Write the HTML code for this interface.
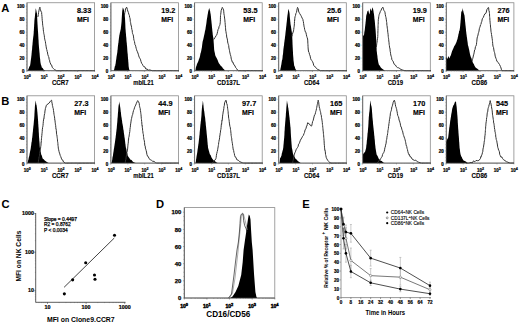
<!DOCTYPE html>
<html><head><meta charset="utf-8"><style>
html,body{margin:0;padding:0;background:#fff;width:520px;height:326px;overflow:hidden;}
svg{display:block;font-family:"Liberation Sans",sans-serif;}
</style></head><body>
<svg xmlns="http://www.w3.org/2000/svg" width="520" height="326" viewBox="0 0 520 326" font-family="Liberation Sans, sans-serif">
<rect width="520" height="326" fill="#fff"/>
<rect x="27.00" y="2.75" width="67.60" height="67.95" fill="none" stroke="#8a8a8a" stroke-width="0.8"/>
<polygon points="27.60,70.70 28.50,69.00 29.30,66.87 30.10,65.60 30.27,64.22 30.45,63.27 30.62,61.87 30.80,60.58 30.98,58.90 31.15,58.01 31.32,56.36 31.50,55.00 31.62,53.16 31.74,52.28 31.87,50.46 31.99,50.19 32.11,48.87 32.23,46.80 32.36,45.44 32.48,44.65 32.60,43.00 32.77,41.14 32.93,39.61 33.10,38.13 33.27,36.82 33.43,35.65 33.60,34.00 33.68,33.26 33.76,31.05 33.85,30.65 33.93,28.87 34.01,27.98 34.09,26.58 34.17,24.49 34.25,23.78 34.34,21.85 34.42,20.41 34.50,19.70 34.66,18.14 34.83,17.15 34.99,15.47 35.15,13.58 35.31,12.92 35.48,11.57 35.64,9.32 35.80,8.20 36.10,9.44 36.40,10.97 36.70,12.58 37.00,13.40 37.06,14.26 37.12,16.09 37.19,17.90 37.25,18.78 37.31,20.22 37.38,21.60 37.44,22.60 37.50,23.90 37.59,24.95 37.67,26.61 37.76,27.83 37.85,28.91 37.94,30.83 38.02,31.54 38.11,32.98 38.20,34.30 38.27,35.91 38.35,37.28 38.42,38.67 38.50,39.68 38.58,40.50 38.65,42.52 38.73,43.89 38.80,44.70 38.93,46.43 39.06,47.96 39.19,49.13 39.31,50.58 39.44,52.16 39.57,53.11 39.70,55.00 39.85,56.71 40.00,58.43 40.15,59.10 40.30,61.00 40.53,62.64 40.77,63.91 41.00,65.00 41.40,65.80 41.80,67.50 42.65,67.96 43.50,69.50 45.50,70.70" fill="#000"/>
<polyline points="37.80,17.00 38.08,16.09 38.35,14.41 38.62,12.28 38.90,10.90 39.40,8.62 39.90,7.20 40.20,8.49 40.50,9.56 40.80,11.00 41.60,12.40 41.73,14.35 41.85,14.92 41.98,16.67 42.10,18.30 42.23,20.32 42.35,21.03 42.48,22.07 42.60,23.90 42.77,25.66 42.95,26.71 43.12,27.35 43.30,29.84 43.48,31.27 43.65,32.26 43.83,33.72 44.00,34.30 44.23,35.26 44.45,37.31 44.67,38.92 44.90,39.83 45.12,40.75 45.35,41.38 45.58,43.28 45.80,44.70 46.08,46.19 46.35,48.02 46.62,49.40 46.90,49.81 47.17,51.80 47.45,51.99 47.73,54.26 48.00,55.00 48.38,56.42 48.77,56.79 49.15,59.40 49.53,60.15 49.92,62.25 50.30,63.00 50.97,64.80 51.63,65.10 52.30,67.50 53.40,68.49 54.50,69.50 56.50,70.70 57.83,70.70 59.16,70.70 60.48,70.70 61.81,70.70 63.14,70.70 64.47,70.70 65.79,70.70 67.12,70.70 68.45,70.70 69.78,70.70 71.10,70.70 72.43,70.70 73.76,70.70 75.09,70.70 76.41,70.70 77.74,70.70 79.07,70.70 80.40,70.70 81.72,70.70 83.05,70.70 84.38,70.70 85.71,70.70 87.03,70.70 88.36,70.70 89.69,70.70 91.02,70.70 92.34,70.70 93.67,70.70 95.00,70.70" fill="none" stroke="#333" stroke-width="1.0" stroke-linejoin="round"/>
<line x1="27.00" y1="2.75" x2="27.00" y2="70.70" stroke="#555" stroke-width="0.7"/>
<line x1="27.00" y1="70.70" x2="94.60" y2="70.70" stroke="#555" stroke-width="0.7"/>
<line x1="25.80" y1="71.10" x2="27.00" y2="71.10" stroke="#777" stroke-width="0.5"/>
<line x1="26.20" y1="67.86" x2="27.00" y2="67.86" stroke="#777" stroke-width="0.5"/>
<line x1="26.20" y1="64.62" x2="27.00" y2="64.62" stroke="#777" stroke-width="0.5"/>
<line x1="26.20" y1="61.37" x2="27.00" y2="61.37" stroke="#777" stroke-width="0.5"/>
<line x1="25.80" y1="58.13" x2="27.00" y2="58.13" stroke="#777" stroke-width="0.5"/>
<line x1="26.20" y1="54.89" x2="27.00" y2="54.89" stroke="#777" stroke-width="0.5"/>
<line x1="26.20" y1="51.65" x2="27.00" y2="51.65" stroke="#777" stroke-width="0.5"/>
<line x1="26.20" y1="48.40" x2="27.00" y2="48.40" stroke="#777" stroke-width="0.5"/>
<line x1="25.80" y1="45.16" x2="27.00" y2="45.16" stroke="#777" stroke-width="0.5"/>
<line x1="26.20" y1="41.92" x2="27.00" y2="41.92" stroke="#777" stroke-width="0.5"/>
<line x1="26.20" y1="38.68" x2="27.00" y2="38.68" stroke="#777" stroke-width="0.5"/>
<line x1="26.20" y1="35.43" x2="27.00" y2="35.43" stroke="#777" stroke-width="0.5"/>
<line x1="25.80" y1="32.19" x2="27.00" y2="32.19" stroke="#777" stroke-width="0.5"/>
<line x1="26.20" y1="28.95" x2="27.00" y2="28.95" stroke="#777" stroke-width="0.5"/>
<line x1="26.20" y1="25.71" x2="27.00" y2="25.71" stroke="#777" stroke-width="0.5"/>
<line x1="26.20" y1="22.46" x2="27.00" y2="22.46" stroke="#777" stroke-width="0.5"/>
<line x1="25.80" y1="19.22" x2="27.00" y2="19.22" stroke="#777" stroke-width="0.5"/>
<line x1="26.20" y1="15.98" x2="27.00" y2="15.98" stroke="#777" stroke-width="0.5"/>
<line x1="26.20" y1="12.73" x2="27.00" y2="12.73" stroke="#777" stroke-width="0.5"/>
<line x1="26.20" y1="9.49" x2="27.00" y2="9.49" stroke="#777" stroke-width="0.5"/>
<line x1="25.80" y1="6.25" x2="27.00" y2="6.25" stroke="#777" stroke-width="0.5"/>
<text x="24.40" y="72.70" font-size="4.5" font-weight="bold" text-anchor="end" stroke="#000" stroke-width="0.22">0</text>
<text x="24.40" y="59.73" font-size="4.5" font-weight="bold" text-anchor="end" stroke="#000" stroke-width="0.22">20</text>
<text x="24.40" y="46.76" font-size="4.5" font-weight="bold" text-anchor="end" stroke="#000" stroke-width="0.22">40</text>
<text x="24.40" y="33.79" font-size="4.5" font-weight="bold" text-anchor="end" stroke="#000" stroke-width="0.22">60</text>
<text x="24.40" y="20.82" font-size="4.5" font-weight="bold" text-anchor="end" stroke="#000" stroke-width="0.22">80</text>
<text x="24.40" y="7.85" font-size="4.5" font-weight="bold" text-anchor="end" stroke="#000" stroke-width="0.22">100</text>
<text x="27.30" y="78.70" font-size="4.5" font-weight="bold" text-anchor="middle" stroke="#000" stroke-width="0.2">10<tspan dy="-2.0" font-size="3.6">0</tspan></text>
<line x1="32.09" y1="70.70" x2="32.09" y2="71.50" stroke="#888" stroke-width="0.4"/>
<line x1="35.06" y1="70.70" x2="35.06" y2="71.50" stroke="#888" stroke-width="0.4"/>
<line x1="37.17" y1="70.70" x2="37.17" y2="71.50" stroke="#888" stroke-width="0.4"/>
<line x1="38.81" y1="70.70" x2="38.81" y2="71.50" stroke="#888" stroke-width="0.4"/>
<line x1="40.15" y1="70.70" x2="40.15" y2="71.50" stroke="#888" stroke-width="0.4"/>
<line x1="41.28" y1="70.70" x2="41.28" y2="71.50" stroke="#888" stroke-width="0.4"/>
<line x1="42.26" y1="70.70" x2="42.26" y2="71.50" stroke="#888" stroke-width="0.4"/>
<line x1="43.13" y1="70.70" x2="43.13" y2="71.50" stroke="#888" stroke-width="0.4"/>
<line x1="27.00" y1="70.70" x2="27.00" y2="72.00" stroke="#666" stroke-width="0.5"/>
<text x="44.20" y="78.70" font-size="4.5" font-weight="bold" text-anchor="middle" stroke="#000" stroke-width="0.2">10<tspan dy="-2.0" font-size="3.6">1</tspan></text>
<line x1="48.99" y1="70.70" x2="48.99" y2="71.50" stroke="#888" stroke-width="0.4"/>
<line x1="51.96" y1="70.70" x2="51.96" y2="71.50" stroke="#888" stroke-width="0.4"/>
<line x1="54.07" y1="70.70" x2="54.07" y2="71.50" stroke="#888" stroke-width="0.4"/>
<line x1="55.71" y1="70.70" x2="55.71" y2="71.50" stroke="#888" stroke-width="0.4"/>
<line x1="57.05" y1="70.70" x2="57.05" y2="71.50" stroke="#888" stroke-width="0.4"/>
<line x1="58.18" y1="70.70" x2="58.18" y2="71.50" stroke="#888" stroke-width="0.4"/>
<line x1="59.16" y1="70.70" x2="59.16" y2="71.50" stroke="#888" stroke-width="0.4"/>
<line x1="60.03" y1="70.70" x2="60.03" y2="71.50" stroke="#888" stroke-width="0.4"/>
<line x1="43.90" y1="70.70" x2="43.90" y2="72.00" stroke="#666" stroke-width="0.5"/>
<text x="61.10" y="78.70" font-size="4.5" font-weight="bold" text-anchor="middle" stroke="#000" stroke-width="0.2">10<tspan dy="-2.0" font-size="3.6">2</tspan></text>
<line x1="65.89" y1="70.70" x2="65.89" y2="71.50" stroke="#888" stroke-width="0.4"/>
<line x1="68.86" y1="70.70" x2="68.86" y2="71.50" stroke="#888" stroke-width="0.4"/>
<line x1="70.97" y1="70.70" x2="70.97" y2="71.50" stroke="#888" stroke-width="0.4"/>
<line x1="72.61" y1="70.70" x2="72.61" y2="71.50" stroke="#888" stroke-width="0.4"/>
<line x1="73.95" y1="70.70" x2="73.95" y2="71.50" stroke="#888" stroke-width="0.4"/>
<line x1="75.08" y1="70.70" x2="75.08" y2="71.50" stroke="#888" stroke-width="0.4"/>
<line x1="76.06" y1="70.70" x2="76.06" y2="71.50" stroke="#888" stroke-width="0.4"/>
<line x1="76.93" y1="70.70" x2="76.93" y2="71.50" stroke="#888" stroke-width="0.4"/>
<line x1="60.80" y1="70.70" x2="60.80" y2="72.00" stroke="#666" stroke-width="0.5"/>
<text x="78.00" y="78.70" font-size="4.5" font-weight="bold" text-anchor="middle" stroke="#000" stroke-width="0.2">10<tspan dy="-2.0" font-size="3.6">3</tspan></text>
<line x1="82.79" y1="70.70" x2="82.79" y2="71.50" stroke="#888" stroke-width="0.4"/>
<line x1="85.76" y1="70.70" x2="85.76" y2="71.50" stroke="#888" stroke-width="0.4"/>
<line x1="87.87" y1="70.70" x2="87.87" y2="71.50" stroke="#888" stroke-width="0.4"/>
<line x1="89.51" y1="70.70" x2="89.51" y2="71.50" stroke="#888" stroke-width="0.4"/>
<line x1="90.85" y1="70.70" x2="90.85" y2="71.50" stroke="#888" stroke-width="0.4"/>
<line x1="91.98" y1="70.70" x2="91.98" y2="71.50" stroke="#888" stroke-width="0.4"/>
<line x1="92.96" y1="70.70" x2="92.96" y2="71.50" stroke="#888" stroke-width="0.4"/>
<line x1="93.83" y1="70.70" x2="93.83" y2="71.50" stroke="#888" stroke-width="0.4"/>
<line x1="77.70" y1="70.70" x2="77.70" y2="72.00" stroke="#666" stroke-width="0.5"/>
<text x="94.90" y="78.70" font-size="4.5" font-weight="bold" text-anchor="middle" stroke="#000" stroke-width="0.2">10<tspan dy="-2.0" font-size="3.6">4</tspan></text>
<line x1="94.60" y1="70.70" x2="94.60" y2="72.00" stroke="#666" stroke-width="0.5"/>
<text x="60.25" y="84.50" font-size="6.3" font-weight="bold" text-anchor="middle" textLength="16.7" lengthAdjust="spacingAndGlyphs" stroke="#000" stroke-width="0.1">CCR7</text>
<text x="77.00" y="12.85" font-size="7.3" font-weight="bold" stroke="#000" stroke-width="0.15">8.33</text>
<text x="77.00" y="21.70" font-size="6.9" font-weight="bold" stroke="#000" stroke-width="0.15">MFI</text>
<rect x="110.90" y="2.75" width="67.60" height="67.95" fill="none" stroke="#8a8a8a" stroke-width="0.8"/>
<polygon points="113.80,70.70 114.15,69.50 114.50,68.00 114.83,66.30 115.17,65.89 115.50,64.00 115.70,63.18 115.90,61.29 116.10,60.00 116.32,58.80 116.54,56.86 116.76,55.47 116.98,54.15 117.20,53.00 117.35,51.90 117.50,49.99 117.65,49.57 117.80,47.15 117.95,45.97 118.10,45.00 118.27,43.16 118.44,42.64 118.61,40.81 118.79,39.59 118.96,38.08 119.13,37.11 119.30,35.60 119.60,34.14 119.90,32.57 120.20,31.50 120.50,30.01 120.80,28.90 120.94,27.09 121.08,26.61 121.22,25.10 121.36,23.74 121.50,22.20 121.59,21.32 121.67,19.39 121.76,18.03 121.84,16.74 121.93,15.37 122.01,14.35 122.10,12.80 122.28,10.86 122.45,10.06 122.62,8.79 122.80,7.40 123.35,8.56 123.90,10.10 124.12,10.88 124.35,13.05 124.58,13.56 124.80,15.50 124.88,16.92 124.96,17.76 125.04,18.96 125.12,20.48 125.20,22.20 125.26,23.02 125.32,24.46 125.38,26.44 125.44,27.83 125.50,28.90 125.62,30.09 125.73,31.78 125.85,32.92 125.97,34.30 126.08,36.10 126.20,37.00 126.32,38.11 126.43,40.11 126.55,41.23 126.67,42.55 126.78,43.07 126.90,45.00 127.02,45.86 127.14,47.17 127.25,48.91 127.37,50.99 127.49,52.27 127.61,53.59 127.73,54.09 127.85,56.16 127.96,57.60 128.08,59.01 128.20,60.00 128.30,61.85 128.40,62.57 128.50,64.11 128.60,66.00 128.90,68.10 129.20,69.50 130.00,70.70" fill="#000"/>
<polyline points="124.50,15.00 124.75,12.84 125.00,12.63 125.25,10.97 125.50,9.00 126.60,7.20 127.00,8.03 127.40,9.73 127.80,11.00 128.33,12.41 128.87,14.27 129.40,15.50 129.63,17.42 129.87,17.57 130.10,18.85 130.33,21.70 130.57,22.38 130.80,23.90 131.06,25.67 131.32,25.60 131.59,27.70 131.85,29.50 132.11,29.91 132.38,32.50 132.64,33.72 132.90,34.30 133.16,34.76 133.43,36.05 133.69,38.27 133.95,40.29 134.21,40.59 134.47,41.59 134.74,43.26 135.00,44.70 135.40,45.11 135.80,46.72 136.20,48.37 136.60,49.73 137.00,51.00 137.44,51.76 137.88,53.00 138.32,54.21 138.76,55.89 139.20,57.20 139.80,58.25 140.40,59.21 141.00,61.50 141.68,63.38 142.35,64.15 143.03,65.58 143.70,66.60 144.80,66.83 145.90,69.09 147.00,69.00 148.35,70.10 149.70,69.90 151.05,70.35 152.40,70.70 153.73,70.70 155.06,70.70 156.39,70.70 157.72,70.70 159.05,70.70 160.38,70.70 161.71,70.70 163.04,70.70 164.37,70.70 165.70,70.70 167.03,70.70 168.36,70.70 169.69,70.70 171.02,70.70 172.35,70.70 173.68,70.70 175.01,70.70 176.34,70.70 177.67,70.70 179.00,70.70" fill="none" stroke="#333" stroke-width="1.0" stroke-linejoin="round"/>
<line x1="110.90" y1="2.75" x2="110.90" y2="70.70" stroke="#555" stroke-width="0.7"/>
<line x1="110.90" y1="70.70" x2="178.50" y2="70.70" stroke="#555" stroke-width="0.7"/>
<line x1="109.70" y1="71.10" x2="110.90" y2="71.10" stroke="#777" stroke-width="0.5"/>
<line x1="110.10" y1="67.86" x2="110.90" y2="67.86" stroke="#777" stroke-width="0.5"/>
<line x1="110.10" y1="64.62" x2="110.90" y2="64.62" stroke="#777" stroke-width="0.5"/>
<line x1="110.10" y1="61.37" x2="110.90" y2="61.37" stroke="#777" stroke-width="0.5"/>
<line x1="109.70" y1="58.13" x2="110.90" y2="58.13" stroke="#777" stroke-width="0.5"/>
<line x1="110.10" y1="54.89" x2="110.90" y2="54.89" stroke="#777" stroke-width="0.5"/>
<line x1="110.10" y1="51.65" x2="110.90" y2="51.65" stroke="#777" stroke-width="0.5"/>
<line x1="110.10" y1="48.40" x2="110.90" y2="48.40" stroke="#777" stroke-width="0.5"/>
<line x1="109.70" y1="45.16" x2="110.90" y2="45.16" stroke="#777" stroke-width="0.5"/>
<line x1="110.10" y1="41.92" x2="110.90" y2="41.92" stroke="#777" stroke-width="0.5"/>
<line x1="110.10" y1="38.68" x2="110.90" y2="38.68" stroke="#777" stroke-width="0.5"/>
<line x1="110.10" y1="35.43" x2="110.90" y2="35.43" stroke="#777" stroke-width="0.5"/>
<line x1="109.70" y1="32.19" x2="110.90" y2="32.19" stroke="#777" stroke-width="0.5"/>
<line x1="110.10" y1="28.95" x2="110.90" y2="28.95" stroke="#777" stroke-width="0.5"/>
<line x1="110.10" y1="25.71" x2="110.90" y2="25.71" stroke="#777" stroke-width="0.5"/>
<line x1="110.10" y1="22.46" x2="110.90" y2="22.46" stroke="#777" stroke-width="0.5"/>
<line x1="109.70" y1="19.22" x2="110.90" y2="19.22" stroke="#777" stroke-width="0.5"/>
<line x1="110.10" y1="15.98" x2="110.90" y2="15.98" stroke="#777" stroke-width="0.5"/>
<line x1="110.10" y1="12.73" x2="110.90" y2="12.73" stroke="#777" stroke-width="0.5"/>
<line x1="110.10" y1="9.49" x2="110.90" y2="9.49" stroke="#777" stroke-width="0.5"/>
<line x1="109.70" y1="6.25" x2="110.90" y2="6.25" stroke="#777" stroke-width="0.5"/>
<text x="108.30" y="72.70" font-size="4.5" font-weight="bold" text-anchor="end" stroke="#000" stroke-width="0.22">0</text>
<text x="108.30" y="59.73" font-size="4.5" font-weight="bold" text-anchor="end" stroke="#000" stroke-width="0.22">20</text>
<text x="108.30" y="46.76" font-size="4.5" font-weight="bold" text-anchor="end" stroke="#000" stroke-width="0.22">40</text>
<text x="108.30" y="33.79" font-size="4.5" font-weight="bold" text-anchor="end" stroke="#000" stroke-width="0.22">60</text>
<text x="108.30" y="20.82" font-size="4.5" font-weight="bold" text-anchor="end" stroke="#000" stroke-width="0.22">80</text>
<text x="108.30" y="7.85" font-size="4.5" font-weight="bold" text-anchor="end" stroke="#000" stroke-width="0.22">100</text>
<text x="111.20" y="78.70" font-size="4.5" font-weight="bold" text-anchor="middle" stroke="#000" stroke-width="0.2">10<tspan dy="-2.0" font-size="3.6">0</tspan></text>
<line x1="115.99" y1="70.70" x2="115.99" y2="71.50" stroke="#888" stroke-width="0.4"/>
<line x1="118.96" y1="70.70" x2="118.96" y2="71.50" stroke="#888" stroke-width="0.4"/>
<line x1="121.07" y1="70.70" x2="121.07" y2="71.50" stroke="#888" stroke-width="0.4"/>
<line x1="122.71" y1="70.70" x2="122.71" y2="71.50" stroke="#888" stroke-width="0.4"/>
<line x1="124.05" y1="70.70" x2="124.05" y2="71.50" stroke="#888" stroke-width="0.4"/>
<line x1="125.18" y1="70.70" x2="125.18" y2="71.50" stroke="#888" stroke-width="0.4"/>
<line x1="126.16" y1="70.70" x2="126.16" y2="71.50" stroke="#888" stroke-width="0.4"/>
<line x1="127.03" y1="70.70" x2="127.03" y2="71.50" stroke="#888" stroke-width="0.4"/>
<line x1="110.90" y1="70.70" x2="110.90" y2="72.00" stroke="#666" stroke-width="0.5"/>
<text x="128.10" y="78.70" font-size="4.5" font-weight="bold" text-anchor="middle" stroke="#000" stroke-width="0.2">10<tspan dy="-2.0" font-size="3.6">1</tspan></text>
<line x1="132.89" y1="70.70" x2="132.89" y2="71.50" stroke="#888" stroke-width="0.4"/>
<line x1="135.86" y1="70.70" x2="135.86" y2="71.50" stroke="#888" stroke-width="0.4"/>
<line x1="137.97" y1="70.70" x2="137.97" y2="71.50" stroke="#888" stroke-width="0.4"/>
<line x1="139.61" y1="70.70" x2="139.61" y2="71.50" stroke="#888" stroke-width="0.4"/>
<line x1="140.95" y1="70.70" x2="140.95" y2="71.50" stroke="#888" stroke-width="0.4"/>
<line x1="142.08" y1="70.70" x2="142.08" y2="71.50" stroke="#888" stroke-width="0.4"/>
<line x1="143.06" y1="70.70" x2="143.06" y2="71.50" stroke="#888" stroke-width="0.4"/>
<line x1="143.93" y1="70.70" x2="143.93" y2="71.50" stroke="#888" stroke-width="0.4"/>
<line x1="127.80" y1="70.70" x2="127.80" y2="72.00" stroke="#666" stroke-width="0.5"/>
<text x="145.00" y="78.70" font-size="4.5" font-weight="bold" text-anchor="middle" stroke="#000" stroke-width="0.2">10<tspan dy="-2.0" font-size="3.6">2</tspan></text>
<line x1="149.79" y1="70.70" x2="149.79" y2="71.50" stroke="#888" stroke-width="0.4"/>
<line x1="152.76" y1="70.70" x2="152.76" y2="71.50" stroke="#888" stroke-width="0.4"/>
<line x1="154.87" y1="70.70" x2="154.87" y2="71.50" stroke="#888" stroke-width="0.4"/>
<line x1="156.51" y1="70.70" x2="156.51" y2="71.50" stroke="#888" stroke-width="0.4"/>
<line x1="157.85" y1="70.70" x2="157.85" y2="71.50" stroke="#888" stroke-width="0.4"/>
<line x1="158.98" y1="70.70" x2="158.98" y2="71.50" stroke="#888" stroke-width="0.4"/>
<line x1="159.96" y1="70.70" x2="159.96" y2="71.50" stroke="#888" stroke-width="0.4"/>
<line x1="160.83" y1="70.70" x2="160.83" y2="71.50" stroke="#888" stroke-width="0.4"/>
<line x1="144.70" y1="70.70" x2="144.70" y2="72.00" stroke="#666" stroke-width="0.5"/>
<text x="161.90" y="78.70" font-size="4.5" font-weight="bold" text-anchor="middle" stroke="#000" stroke-width="0.2">10<tspan dy="-2.0" font-size="3.6">3</tspan></text>
<line x1="166.69" y1="70.70" x2="166.69" y2="71.50" stroke="#888" stroke-width="0.4"/>
<line x1="169.66" y1="70.70" x2="169.66" y2="71.50" stroke="#888" stroke-width="0.4"/>
<line x1="171.77" y1="70.70" x2="171.77" y2="71.50" stroke="#888" stroke-width="0.4"/>
<line x1="173.41" y1="70.70" x2="173.41" y2="71.50" stroke="#888" stroke-width="0.4"/>
<line x1="174.75" y1="70.70" x2="174.75" y2="71.50" stroke="#888" stroke-width="0.4"/>
<line x1="175.88" y1="70.70" x2="175.88" y2="71.50" stroke="#888" stroke-width="0.4"/>
<line x1="176.86" y1="70.70" x2="176.86" y2="71.50" stroke="#888" stroke-width="0.4"/>
<line x1="177.73" y1="70.70" x2="177.73" y2="71.50" stroke="#888" stroke-width="0.4"/>
<line x1="161.60" y1="70.70" x2="161.60" y2="72.00" stroke="#666" stroke-width="0.5"/>
<text x="178.80" y="78.70" font-size="4.5" font-weight="bold" text-anchor="middle" stroke="#000" stroke-width="0.2">10<tspan dy="-2.0" font-size="3.6">4</tspan></text>
<line x1="178.50" y1="70.70" x2="178.50" y2="72.00" stroke="#666" stroke-width="0.5"/>
<text x="143.45" y="84.50" font-size="6.3" font-weight="bold" text-anchor="middle" textLength="20.5" lengthAdjust="spacingAndGlyphs" stroke="#000" stroke-width="0.1">mbIL21</text>
<text x="161.20" y="12.85" font-size="7.3" font-weight="bold" stroke="#000" stroke-width="0.15">19.2</text>
<text x="161.20" y="21.70" font-size="6.9" font-weight="bold" stroke="#000" stroke-width="0.15">MFI</text>
<rect x="194.60" y="2.75" width="67.60" height="67.95" fill="none" stroke="#8a8a8a" stroke-width="0.8"/>
<polygon points="195.40,70.70 195.70,68.48 196.00,67.00 196.50,65.81 197.00,63.94 197.50,63.00 198.00,62.01 198.50,60.63 199.00,59.11 199.50,58.00 199.82,56.81 200.13,55.41 200.45,53.45 200.77,52.70 201.08,51.48 201.40,50.00 201.60,48.74 201.80,47.88 202.00,46.43 202.20,44.71 202.40,43.24 202.60,41.84 202.80,41.00 203.12,40.02 203.45,38.53 203.78,37.08 204.10,35.60 204.38,34.19 204.66,32.92 204.94,31.25 205.22,30.28 205.50,28.90 205.70,27.13 205.90,26.37 206.10,25.04 206.30,23.74 206.50,22.20 206.70,20.56 206.90,19.03 207.10,17.98 207.30,17.07 207.50,15.50 207.73,14.15 207.97,13.06 208.20,11.40 208.70,9.67 209.20,8.10 209.70,9.63 210.20,11.40 210.40,13.26 210.60,13.73 210.80,15.50 210.94,16.49 211.08,18.29 211.22,19.68 211.36,20.78 211.50,22.20 211.64,23.61 211.78,24.81 211.92,26.42 212.06,28.03 212.20,28.90 212.34,30.63 212.48,31.75 212.62,32.88 212.76,34.80 212.90,35.60 213.20,37.24 213.50,39.00 213.59,40.53 213.68,42.19 213.76,43.35 213.85,44.37 213.94,46.17 214.03,47.37 214.11,49.12 214.20,50.00 214.53,51.65 214.85,53.04 215.18,55.07 215.50,56.00 216.20,57.37 216.90,58.54 217.60,60.00 218.23,61.86 218.87,63.20 219.50,64.00 220.90,66.00 221.95,66.86 223.00,68.50 224.00,69.14 225.00,70.70" fill="#000"/>
<polyline points="213.80,39.50 214.90,37.70 216.20,35.60 216.67,35.09 217.13,33.74 217.60,31.60 218.10,29.45 218.60,28.90 219.10,26.50 219.60,25.60 219.95,24.50 220.30,22.20 220.34,21.28 220.38,19.83 220.42,17.83 220.46,17.03 220.50,15.50 220.70,14.34 220.90,12.95 221.10,10.84 221.30,10.10 221.80,8.63 222.30,7.40 222.95,8.56 223.60,10.10 223.78,11.85 223.95,13.69 224.12,14.96 224.30,15.50 224.44,16.92 224.58,18.08 224.72,19.10 224.86,20.02 225.00,22.20 225.12,22.69 225.24,24.82 225.36,25.89 225.48,27.34 225.60,28.90 225.78,30.96 225.97,31.65 226.15,33.06 226.33,33.83 226.52,34.79 226.70,37.00 226.98,37.97 227.27,38.91 227.55,40.87 227.83,43.03 228.12,43.73 228.40,44.70 228.66,45.43 228.93,48.01 229.19,49.13 229.45,50.32 229.71,51.93 229.97,52.97 230.24,54.32 230.50,55.10 230.90,56.47 231.30,59.23 231.70,60.00 232.30,62.16 232.90,62.06 233.50,64.00 235.00,66.00 235.75,67.71 236.50,68.50 237.50,70.04 238.50,70.70 239.86,70.70 241.22,70.70 242.58,70.70 243.94,70.70 245.31,70.70 246.67,70.70 248.03,70.70 249.39,70.70 250.75,70.70 252.11,70.70 253.47,70.70 254.83,70.70 256.19,70.70 257.56,70.70 258.92,70.70 260.28,70.70 261.64,70.70 263.00,70.70" fill="none" stroke="#333" stroke-width="1.0" stroke-linejoin="round"/>
<line x1="194.60" y1="2.75" x2="194.60" y2="70.70" stroke="#555" stroke-width="0.7"/>
<line x1="194.60" y1="70.70" x2="262.20" y2="70.70" stroke="#555" stroke-width="0.7"/>
<line x1="193.40" y1="71.10" x2="194.60" y2="71.10" stroke="#777" stroke-width="0.5"/>
<line x1="193.80" y1="67.86" x2="194.60" y2="67.86" stroke="#777" stroke-width="0.5"/>
<line x1="193.80" y1="64.62" x2="194.60" y2="64.62" stroke="#777" stroke-width="0.5"/>
<line x1="193.80" y1="61.37" x2="194.60" y2="61.37" stroke="#777" stroke-width="0.5"/>
<line x1="193.40" y1="58.13" x2="194.60" y2="58.13" stroke="#777" stroke-width="0.5"/>
<line x1="193.80" y1="54.89" x2="194.60" y2="54.89" stroke="#777" stroke-width="0.5"/>
<line x1="193.80" y1="51.65" x2="194.60" y2="51.65" stroke="#777" stroke-width="0.5"/>
<line x1="193.80" y1="48.40" x2="194.60" y2="48.40" stroke="#777" stroke-width="0.5"/>
<line x1="193.40" y1="45.16" x2="194.60" y2="45.16" stroke="#777" stroke-width="0.5"/>
<line x1="193.80" y1="41.92" x2="194.60" y2="41.92" stroke="#777" stroke-width="0.5"/>
<line x1="193.80" y1="38.68" x2="194.60" y2="38.68" stroke="#777" stroke-width="0.5"/>
<line x1="193.80" y1="35.43" x2="194.60" y2="35.43" stroke="#777" stroke-width="0.5"/>
<line x1="193.40" y1="32.19" x2="194.60" y2="32.19" stroke="#777" stroke-width="0.5"/>
<line x1="193.80" y1="28.95" x2="194.60" y2="28.95" stroke="#777" stroke-width="0.5"/>
<line x1="193.80" y1="25.71" x2="194.60" y2="25.71" stroke="#777" stroke-width="0.5"/>
<line x1="193.80" y1="22.46" x2="194.60" y2="22.46" stroke="#777" stroke-width="0.5"/>
<line x1="193.40" y1="19.22" x2="194.60" y2="19.22" stroke="#777" stroke-width="0.5"/>
<line x1="193.80" y1="15.98" x2="194.60" y2="15.98" stroke="#777" stroke-width="0.5"/>
<line x1="193.80" y1="12.73" x2="194.60" y2="12.73" stroke="#777" stroke-width="0.5"/>
<line x1="193.80" y1="9.49" x2="194.60" y2="9.49" stroke="#777" stroke-width="0.5"/>
<line x1="193.40" y1="6.25" x2="194.60" y2="6.25" stroke="#777" stroke-width="0.5"/>
<text x="192.00" y="72.70" font-size="4.5" font-weight="bold" text-anchor="end" stroke="#000" stroke-width="0.22">0</text>
<text x="192.00" y="59.73" font-size="4.5" font-weight="bold" text-anchor="end" stroke="#000" stroke-width="0.22">20</text>
<text x="192.00" y="46.76" font-size="4.5" font-weight="bold" text-anchor="end" stroke="#000" stroke-width="0.22">40</text>
<text x="192.00" y="33.79" font-size="4.5" font-weight="bold" text-anchor="end" stroke="#000" stroke-width="0.22">60</text>
<text x="192.00" y="20.82" font-size="4.5" font-weight="bold" text-anchor="end" stroke="#000" stroke-width="0.22">80</text>
<text x="192.00" y="7.85" font-size="4.5" font-weight="bold" text-anchor="end" stroke="#000" stroke-width="0.22">100</text>
<text x="194.90" y="78.70" font-size="4.5" font-weight="bold" text-anchor="middle" stroke="#000" stroke-width="0.2">10<tspan dy="-2.0" font-size="3.6">0</tspan></text>
<line x1="199.69" y1="70.70" x2="199.69" y2="71.50" stroke="#888" stroke-width="0.4"/>
<line x1="202.66" y1="70.70" x2="202.66" y2="71.50" stroke="#888" stroke-width="0.4"/>
<line x1="204.77" y1="70.70" x2="204.77" y2="71.50" stroke="#888" stroke-width="0.4"/>
<line x1="206.41" y1="70.70" x2="206.41" y2="71.50" stroke="#888" stroke-width="0.4"/>
<line x1="207.75" y1="70.70" x2="207.75" y2="71.50" stroke="#888" stroke-width="0.4"/>
<line x1="208.88" y1="70.70" x2="208.88" y2="71.50" stroke="#888" stroke-width="0.4"/>
<line x1="209.86" y1="70.70" x2="209.86" y2="71.50" stroke="#888" stroke-width="0.4"/>
<line x1="210.73" y1="70.70" x2="210.73" y2="71.50" stroke="#888" stroke-width="0.4"/>
<line x1="194.60" y1="70.70" x2="194.60" y2="72.00" stroke="#666" stroke-width="0.5"/>
<text x="211.80" y="78.70" font-size="4.5" font-weight="bold" text-anchor="middle" stroke="#000" stroke-width="0.2">10<tspan dy="-2.0" font-size="3.6">1</tspan></text>
<line x1="216.59" y1="70.70" x2="216.59" y2="71.50" stroke="#888" stroke-width="0.4"/>
<line x1="219.56" y1="70.70" x2="219.56" y2="71.50" stroke="#888" stroke-width="0.4"/>
<line x1="221.67" y1="70.70" x2="221.67" y2="71.50" stroke="#888" stroke-width="0.4"/>
<line x1="223.31" y1="70.70" x2="223.31" y2="71.50" stroke="#888" stroke-width="0.4"/>
<line x1="224.65" y1="70.70" x2="224.65" y2="71.50" stroke="#888" stroke-width="0.4"/>
<line x1="225.78" y1="70.70" x2="225.78" y2="71.50" stroke="#888" stroke-width="0.4"/>
<line x1="226.76" y1="70.70" x2="226.76" y2="71.50" stroke="#888" stroke-width="0.4"/>
<line x1="227.63" y1="70.70" x2="227.63" y2="71.50" stroke="#888" stroke-width="0.4"/>
<line x1="211.50" y1="70.70" x2="211.50" y2="72.00" stroke="#666" stroke-width="0.5"/>
<text x="228.70" y="78.70" font-size="4.5" font-weight="bold" text-anchor="middle" stroke="#000" stroke-width="0.2">10<tspan dy="-2.0" font-size="3.6">2</tspan></text>
<line x1="233.49" y1="70.70" x2="233.49" y2="71.50" stroke="#888" stroke-width="0.4"/>
<line x1="236.46" y1="70.70" x2="236.46" y2="71.50" stroke="#888" stroke-width="0.4"/>
<line x1="238.57" y1="70.70" x2="238.57" y2="71.50" stroke="#888" stroke-width="0.4"/>
<line x1="240.21" y1="70.70" x2="240.21" y2="71.50" stroke="#888" stroke-width="0.4"/>
<line x1="241.55" y1="70.70" x2="241.55" y2="71.50" stroke="#888" stroke-width="0.4"/>
<line x1="242.68" y1="70.70" x2="242.68" y2="71.50" stroke="#888" stroke-width="0.4"/>
<line x1="243.66" y1="70.70" x2="243.66" y2="71.50" stroke="#888" stroke-width="0.4"/>
<line x1="244.53" y1="70.70" x2="244.53" y2="71.50" stroke="#888" stroke-width="0.4"/>
<line x1="228.40" y1="70.70" x2="228.40" y2="72.00" stroke="#666" stroke-width="0.5"/>
<text x="245.60" y="78.70" font-size="4.5" font-weight="bold" text-anchor="middle" stroke="#000" stroke-width="0.2">10<tspan dy="-2.0" font-size="3.6">3</tspan></text>
<line x1="250.39" y1="70.70" x2="250.39" y2="71.50" stroke="#888" stroke-width="0.4"/>
<line x1="253.36" y1="70.70" x2="253.36" y2="71.50" stroke="#888" stroke-width="0.4"/>
<line x1="255.47" y1="70.70" x2="255.47" y2="71.50" stroke="#888" stroke-width="0.4"/>
<line x1="257.11" y1="70.70" x2="257.11" y2="71.50" stroke="#888" stroke-width="0.4"/>
<line x1="258.45" y1="70.70" x2="258.45" y2="71.50" stroke="#888" stroke-width="0.4"/>
<line x1="259.58" y1="70.70" x2="259.58" y2="71.50" stroke="#888" stroke-width="0.4"/>
<line x1="260.56" y1="70.70" x2="260.56" y2="71.50" stroke="#888" stroke-width="0.4"/>
<line x1="261.43" y1="70.70" x2="261.43" y2="71.50" stroke="#888" stroke-width="0.4"/>
<line x1="245.30" y1="70.70" x2="245.30" y2="72.00" stroke="#666" stroke-width="0.5"/>
<text x="262.50" y="78.70" font-size="4.5" font-weight="bold" text-anchor="middle" stroke="#000" stroke-width="0.2">10<tspan dy="-2.0" font-size="3.6">4</tspan></text>
<line x1="262.20" y1="70.70" x2="262.20" y2="72.00" stroke="#666" stroke-width="0.5"/>
<text x="228.45" y="84.50" font-size="6.3" font-weight="bold" text-anchor="middle" textLength="22.9" lengthAdjust="spacingAndGlyphs" stroke="#000" stroke-width="0.1">CD137L</text>
<text x="243.30" y="12.85" font-size="7.3" font-weight="bold" stroke="#000" stroke-width="0.15">53.5</text>
<text x="243.30" y="21.70" font-size="6.9" font-weight="bold" stroke="#000" stroke-width="0.15">MFI</text>
<rect x="278.70" y="2.75" width="67.60" height="67.95" fill="none" stroke="#8a8a8a" stroke-width="0.8"/>
<polygon points="280.00,70.70 280.27,70.07 280.55,68.15 280.82,67.16 281.10,65.60 281.38,64.36 281.66,62.22 281.94,60.53 282.22,59.64 282.50,58.00 282.66,56.12 282.81,55.00 282.97,54.18 283.13,52.73 283.29,50.40 283.44,48.93 283.60,48.00 283.80,46.17 284.00,45.39 284.20,42.93 284.40,41.67 284.60,40.03 284.80,39.00 285.00,36.89 285.20,35.69 285.40,34.00 285.56,32.18 285.71,31.01 285.87,29.95 286.03,28.50 286.19,26.68 286.34,25.69 286.50,23.90 286.67,22.50 286.83,21.33 287.00,19.15 287.17,17.81 287.33,16.58 287.50,15.00 287.73,13.99 287.95,12.04 288.18,10.32 288.40,8.80 288.77,9.90 289.13,11.34 289.50,13.00 289.62,14.02 289.75,16.31 289.88,17.55 290.00,18.92 290.12,19.85 290.25,21.43 290.38,22.29 290.50,23.90 290.72,25.30 290.94,26.31 291.16,28.06 291.38,29.28 291.60,31.00 291.80,31.85 292.00,34.17 292.20,35.00 292.26,35.94 292.31,38.23 292.37,39.53 292.43,40.22 292.49,42.13 292.54,44.17 292.60,45.00 292.67,47.01 292.74,47.93 292.81,49.61 292.89,50.96 292.96,51.89 293.03,53.63 293.10,55.00 293.23,56.62 293.35,57.87 293.48,59.88 293.60,61.00 293.83,62.60 294.07,64.63 294.30,66.00 294.80,66.83 295.30,68.70 296.50,70.70" fill="#000"/>
<polyline points="291.90,36.40 292.35,34.23 292.80,33.00 293.50,30.90 293.73,29.41 293.97,27.53 294.20,26.20 294.30,25.05 294.40,23.76 294.50,21.42 294.60,19.99 294.70,20.14 294.80,18.20 295.15,16.42 295.50,15.50 295.85,13.67 296.20,12.80 296.55,12.34 296.90,10.10 297.20,8.70 297.50,7.40 298.20,8.70 298.55,11.01 298.90,12.10 299.60,13.40 300.90,15.50 301.55,16.81 302.20,18.20 302.90,19.50 303.13,21.08 303.37,21.54 303.60,23.50 303.86,25.10 304.12,26.88 304.38,27.62 304.64,29.37 304.90,30.30 305.37,31.94 305.83,32.18 306.30,34.30 306.73,36.33 307.17,37.60 307.60,39.00 307.69,40.02 307.77,40.91 307.86,43.78 307.95,44.45 308.04,46.27 308.12,47.93 308.21,49.01 308.30,50.00 308.68,52.01 309.05,52.31 309.43,54.29 309.80,55.00 310.18,56.15 310.55,58.28 310.93,59.43 311.30,60.00 311.92,60.48 312.54,61.74 313.16,63.09 313.78,65.64 314.40,66.00 315.45,67.14 316.50,68.50 317.80,69.49 319.10,70.03 320.40,70.70 321.73,70.70 323.06,70.70 324.39,70.70 325.72,70.70 327.05,70.70 328.38,70.70 329.71,70.70 331.04,70.70 332.37,70.70 333.70,70.70 335.03,70.70 336.36,70.70 337.69,70.70 339.02,70.70 340.35,70.70 341.68,70.70 343.01,70.70 344.34,70.70 345.67,70.70 347.00,70.70" fill="none" stroke="#333" stroke-width="1.0" stroke-linejoin="round"/>
<line x1="278.70" y1="2.75" x2="278.70" y2="70.70" stroke="#555" stroke-width="0.7"/>
<line x1="278.70" y1="70.70" x2="346.30" y2="70.70" stroke="#555" stroke-width="0.7"/>
<line x1="277.50" y1="71.10" x2="278.70" y2="71.10" stroke="#777" stroke-width="0.5"/>
<line x1="277.90" y1="67.86" x2="278.70" y2="67.86" stroke="#777" stroke-width="0.5"/>
<line x1="277.90" y1="64.62" x2="278.70" y2="64.62" stroke="#777" stroke-width="0.5"/>
<line x1="277.90" y1="61.37" x2="278.70" y2="61.37" stroke="#777" stroke-width="0.5"/>
<line x1="277.50" y1="58.13" x2="278.70" y2="58.13" stroke="#777" stroke-width="0.5"/>
<line x1="277.90" y1="54.89" x2="278.70" y2="54.89" stroke="#777" stroke-width="0.5"/>
<line x1="277.90" y1="51.65" x2="278.70" y2="51.65" stroke="#777" stroke-width="0.5"/>
<line x1="277.90" y1="48.40" x2="278.70" y2="48.40" stroke="#777" stroke-width="0.5"/>
<line x1="277.50" y1="45.16" x2="278.70" y2="45.16" stroke="#777" stroke-width="0.5"/>
<line x1="277.90" y1="41.92" x2="278.70" y2="41.92" stroke="#777" stroke-width="0.5"/>
<line x1="277.90" y1="38.68" x2="278.70" y2="38.68" stroke="#777" stroke-width="0.5"/>
<line x1="277.90" y1="35.43" x2="278.70" y2="35.43" stroke="#777" stroke-width="0.5"/>
<line x1="277.50" y1="32.19" x2="278.70" y2="32.19" stroke="#777" stroke-width="0.5"/>
<line x1="277.90" y1="28.95" x2="278.70" y2="28.95" stroke="#777" stroke-width="0.5"/>
<line x1="277.90" y1="25.71" x2="278.70" y2="25.71" stroke="#777" stroke-width="0.5"/>
<line x1="277.90" y1="22.46" x2="278.70" y2="22.46" stroke="#777" stroke-width="0.5"/>
<line x1="277.50" y1="19.22" x2="278.70" y2="19.22" stroke="#777" stroke-width="0.5"/>
<line x1="277.90" y1="15.98" x2="278.70" y2="15.98" stroke="#777" stroke-width="0.5"/>
<line x1="277.90" y1="12.73" x2="278.70" y2="12.73" stroke="#777" stroke-width="0.5"/>
<line x1="277.90" y1="9.49" x2="278.70" y2="9.49" stroke="#777" stroke-width="0.5"/>
<line x1="277.50" y1="6.25" x2="278.70" y2="6.25" stroke="#777" stroke-width="0.5"/>
<text x="276.10" y="72.70" font-size="4.5" font-weight="bold" text-anchor="end" stroke="#000" stroke-width="0.22">0</text>
<text x="276.10" y="59.73" font-size="4.5" font-weight="bold" text-anchor="end" stroke="#000" stroke-width="0.22">20</text>
<text x="276.10" y="46.76" font-size="4.5" font-weight="bold" text-anchor="end" stroke="#000" stroke-width="0.22">40</text>
<text x="276.10" y="33.79" font-size="4.5" font-weight="bold" text-anchor="end" stroke="#000" stroke-width="0.22">60</text>
<text x="276.10" y="20.82" font-size="4.5" font-weight="bold" text-anchor="end" stroke="#000" stroke-width="0.22">80</text>
<text x="276.10" y="7.85" font-size="4.5" font-weight="bold" text-anchor="end" stroke="#000" stroke-width="0.22">100</text>
<text x="279.00" y="78.70" font-size="4.5" font-weight="bold" text-anchor="middle" stroke="#000" stroke-width="0.2">10<tspan dy="-2.0" font-size="3.6">0</tspan></text>
<line x1="283.79" y1="70.70" x2="283.79" y2="71.50" stroke="#888" stroke-width="0.4"/>
<line x1="286.76" y1="70.70" x2="286.76" y2="71.50" stroke="#888" stroke-width="0.4"/>
<line x1="288.87" y1="70.70" x2="288.87" y2="71.50" stroke="#888" stroke-width="0.4"/>
<line x1="290.51" y1="70.70" x2="290.51" y2="71.50" stroke="#888" stroke-width="0.4"/>
<line x1="291.85" y1="70.70" x2="291.85" y2="71.50" stroke="#888" stroke-width="0.4"/>
<line x1="292.98" y1="70.70" x2="292.98" y2="71.50" stroke="#888" stroke-width="0.4"/>
<line x1="293.96" y1="70.70" x2="293.96" y2="71.50" stroke="#888" stroke-width="0.4"/>
<line x1="294.83" y1="70.70" x2="294.83" y2="71.50" stroke="#888" stroke-width="0.4"/>
<line x1="278.70" y1="70.70" x2="278.70" y2="72.00" stroke="#666" stroke-width="0.5"/>
<text x="295.90" y="78.70" font-size="4.5" font-weight="bold" text-anchor="middle" stroke="#000" stroke-width="0.2">10<tspan dy="-2.0" font-size="3.6">1</tspan></text>
<line x1="300.69" y1="70.70" x2="300.69" y2="71.50" stroke="#888" stroke-width="0.4"/>
<line x1="303.66" y1="70.70" x2="303.66" y2="71.50" stroke="#888" stroke-width="0.4"/>
<line x1="305.77" y1="70.70" x2="305.77" y2="71.50" stroke="#888" stroke-width="0.4"/>
<line x1="307.41" y1="70.70" x2="307.41" y2="71.50" stroke="#888" stroke-width="0.4"/>
<line x1="308.75" y1="70.70" x2="308.75" y2="71.50" stroke="#888" stroke-width="0.4"/>
<line x1="309.88" y1="70.70" x2="309.88" y2="71.50" stroke="#888" stroke-width="0.4"/>
<line x1="310.86" y1="70.70" x2="310.86" y2="71.50" stroke="#888" stroke-width="0.4"/>
<line x1="311.73" y1="70.70" x2="311.73" y2="71.50" stroke="#888" stroke-width="0.4"/>
<line x1="295.60" y1="70.70" x2="295.60" y2="72.00" stroke="#666" stroke-width="0.5"/>
<text x="312.80" y="78.70" font-size="4.5" font-weight="bold" text-anchor="middle" stroke="#000" stroke-width="0.2">10<tspan dy="-2.0" font-size="3.6">2</tspan></text>
<line x1="317.59" y1="70.70" x2="317.59" y2="71.50" stroke="#888" stroke-width="0.4"/>
<line x1="320.56" y1="70.70" x2="320.56" y2="71.50" stroke="#888" stroke-width="0.4"/>
<line x1="322.67" y1="70.70" x2="322.67" y2="71.50" stroke="#888" stroke-width="0.4"/>
<line x1="324.31" y1="70.70" x2="324.31" y2="71.50" stroke="#888" stroke-width="0.4"/>
<line x1="325.65" y1="70.70" x2="325.65" y2="71.50" stroke="#888" stroke-width="0.4"/>
<line x1="326.78" y1="70.70" x2="326.78" y2="71.50" stroke="#888" stroke-width="0.4"/>
<line x1="327.76" y1="70.70" x2="327.76" y2="71.50" stroke="#888" stroke-width="0.4"/>
<line x1="328.63" y1="70.70" x2="328.63" y2="71.50" stroke="#888" stroke-width="0.4"/>
<line x1="312.50" y1="70.70" x2="312.50" y2="72.00" stroke="#666" stroke-width="0.5"/>
<text x="329.70" y="78.70" font-size="4.5" font-weight="bold" text-anchor="middle" stroke="#000" stroke-width="0.2">10<tspan dy="-2.0" font-size="3.6">3</tspan></text>
<line x1="334.49" y1="70.70" x2="334.49" y2="71.50" stroke="#888" stroke-width="0.4"/>
<line x1="337.46" y1="70.70" x2="337.46" y2="71.50" stroke="#888" stroke-width="0.4"/>
<line x1="339.57" y1="70.70" x2="339.57" y2="71.50" stroke="#888" stroke-width="0.4"/>
<line x1="341.21" y1="70.70" x2="341.21" y2="71.50" stroke="#888" stroke-width="0.4"/>
<line x1="342.55" y1="70.70" x2="342.55" y2="71.50" stroke="#888" stroke-width="0.4"/>
<line x1="343.68" y1="70.70" x2="343.68" y2="71.50" stroke="#888" stroke-width="0.4"/>
<line x1="344.66" y1="70.70" x2="344.66" y2="71.50" stroke="#888" stroke-width="0.4"/>
<line x1="345.53" y1="70.70" x2="345.53" y2="71.50" stroke="#888" stroke-width="0.4"/>
<line x1="329.40" y1="70.70" x2="329.40" y2="72.00" stroke="#666" stroke-width="0.5"/>
<text x="346.60" y="78.70" font-size="4.5" font-weight="bold" text-anchor="middle" stroke="#000" stroke-width="0.2">10<tspan dy="-2.0" font-size="3.6">4</tspan></text>
<line x1="346.30" y1="70.70" x2="346.30" y2="72.00" stroke="#666" stroke-width="0.5"/>
<text x="311.60" y="84.50" font-size="6.3" font-weight="bold" text-anchor="middle" textLength="15.2" lengthAdjust="spacingAndGlyphs" stroke="#000" stroke-width="0.1">CD64</text>
<text x="327.00" y="12.85" font-size="7.3" font-weight="bold" stroke="#000" stroke-width="0.15">25.6</text>
<text x="327.00" y="21.70" font-size="6.9" font-weight="bold" stroke="#000" stroke-width="0.15">MFI</text>
<rect x="362.70" y="2.75" width="67.60" height="67.95" fill="none" stroke="#8a8a8a" stroke-width="0.8"/>
<polygon points="363.00,70.70 363.00,70.01 363.00,68.57 363.00,67.06 363.00,65.12 363.00,63.90 363.00,63.03 363.00,61.80 363.00,59.51 363.00,58.35 363.00,57.89 363.00,55.62 363.00,54.92 363.00,53.20 363.00,52.24 363.00,51.16 363.00,49.48 363.00,47.92 363.00,46.49 363.00,45.51 363.00,44.18 363.00,42.58 363.00,41.31 363.00,40.06 363.00,38.39 363.00,36.95 363.00,36.00 364.00,35.00 364.17,33.78 364.34,31.92 364.51,31.22 364.69,30.16 364.86,28.89 365.03,26.90 365.20,25.90 365.34,24.50 365.48,23.81 365.61,21.82 365.75,21.29 365.89,19.04 366.02,18.51 366.16,16.25 366.30,15.50 366.63,14.37 366.97,13.20 367.30,11.50 368.30,10.30 368.67,11.76 369.03,13.26 369.40,14.50 369.65,13.42 369.90,11.95 370.15,9.39 370.40,8.20 370.95,9.78 371.50,11.30 371.83,9.38 372.17,8.42 372.50,7.20 372.83,8.14 373.17,9.53 373.50,11.30 373.68,12.85 373.87,13.60 374.05,15.08 374.23,16.31 374.42,18.68 374.60,19.70 374.74,20.86 374.89,22.13 375.03,24.26 375.17,25.85 375.31,27.21 375.46,28.59 375.60,30.00 375.69,31.35 375.77,32.89 375.86,33.71 375.95,35.66 376.04,36.80 376.12,38.30 376.21,39.66 376.30,40.50 376.35,42.22 376.40,43.15 376.45,44.46 376.50,46.03 376.55,47.16 376.60,47.81 376.65,50.19 376.70,51.00 376.87,51.97 377.03,53.65 377.20,54.94 377.37,55.85 377.53,57.76 377.70,59.00 377.98,60.48 378.25,62.13 378.52,63.26 378.80,64.50 379.80,65.82 380.80,67.60 381.85,68.53 382.90,69.30 385.00,70.70" fill="#000"/>
<polyline points="376.40,47.00 376.62,45.02 376.83,43.29 377.05,42.31 377.27,40.38 377.48,38.72 377.70,38.00 377.74,36.52 377.79,36.14 377.83,34.62 377.87,33.25 377.91,30.96 377.96,30.22 378.00,28.45 378.04,26.95 378.09,25.53 378.13,24.41 378.17,24.39 378.21,22.91 378.26,21.56 378.30,19.70 378.52,18.94 378.75,16.55 378.98,15.46 379.20,14.50 379.80,13.13 380.40,11.30 381.15,10.17 381.90,8.20 382.90,7.20 383.47,9.21 384.03,10.62 384.60,11.30 384.95,12.13 385.30,14.64 385.65,16.33 386.00,17.60 386.18,19.01 386.37,19.82 386.55,21.75 386.73,22.46 386.92,25.38 387.10,26.00 387.27,28.04 387.43,28.85 387.60,29.79 387.77,32.27 387.93,33.05 388.10,34.30 388.24,36.29 388.38,37.53 388.51,38.22 388.65,39.35 388.79,40.98 388.93,41.98 389.06,42.79 389.20,44.70 389.40,45.64 389.60,47.84 389.80,47.74 390.00,49.03 390.20,51.36 390.40,52.03 390.60,53.77 390.80,55.00 391.18,56.27 391.55,57.37 391.93,59.87 392.30,60.30 393.00,61.15 393.70,62.94 394.40,64.50 395.43,65.00 396.47,66.81 397.50,67.60 398.67,67.83 399.83,68.61 401.00,69.50 402.33,69.93 403.67,70.37 405.00,70.70 406.30,70.70 407.60,70.70 408.90,70.70 410.20,70.70 411.50,70.70 412.80,70.70 414.10,70.70 415.40,70.70 416.70,70.70 418.00,70.70 419.30,70.70 420.60,70.70 421.90,70.70 423.20,70.70 424.50,70.70 425.80,70.70 427.10,70.70 428.40,70.70 429.70,70.70 431.00,70.70" fill="none" stroke="#333" stroke-width="1.0" stroke-linejoin="round"/>
<line x1="362.70" y1="2.75" x2="362.70" y2="70.70" stroke="#555" stroke-width="0.7"/>
<line x1="362.70" y1="70.70" x2="430.30" y2="70.70" stroke="#555" stroke-width="0.7"/>
<line x1="361.50" y1="71.10" x2="362.70" y2="71.10" stroke="#777" stroke-width="0.5"/>
<line x1="361.90" y1="67.86" x2="362.70" y2="67.86" stroke="#777" stroke-width="0.5"/>
<line x1="361.90" y1="64.62" x2="362.70" y2="64.62" stroke="#777" stroke-width="0.5"/>
<line x1="361.90" y1="61.37" x2="362.70" y2="61.37" stroke="#777" stroke-width="0.5"/>
<line x1="361.50" y1="58.13" x2="362.70" y2="58.13" stroke="#777" stroke-width="0.5"/>
<line x1="361.90" y1="54.89" x2="362.70" y2="54.89" stroke="#777" stroke-width="0.5"/>
<line x1="361.90" y1="51.65" x2="362.70" y2="51.65" stroke="#777" stroke-width="0.5"/>
<line x1="361.90" y1="48.40" x2="362.70" y2="48.40" stroke="#777" stroke-width="0.5"/>
<line x1="361.50" y1="45.16" x2="362.70" y2="45.16" stroke="#777" stroke-width="0.5"/>
<line x1="361.90" y1="41.92" x2="362.70" y2="41.92" stroke="#777" stroke-width="0.5"/>
<line x1="361.90" y1="38.68" x2="362.70" y2="38.68" stroke="#777" stroke-width="0.5"/>
<line x1="361.90" y1="35.43" x2="362.70" y2="35.43" stroke="#777" stroke-width="0.5"/>
<line x1="361.50" y1="32.19" x2="362.70" y2="32.19" stroke="#777" stroke-width="0.5"/>
<line x1="361.90" y1="28.95" x2="362.70" y2="28.95" stroke="#777" stroke-width="0.5"/>
<line x1="361.90" y1="25.71" x2="362.70" y2="25.71" stroke="#777" stroke-width="0.5"/>
<line x1="361.90" y1="22.46" x2="362.70" y2="22.46" stroke="#777" stroke-width="0.5"/>
<line x1="361.50" y1="19.22" x2="362.70" y2="19.22" stroke="#777" stroke-width="0.5"/>
<line x1="361.90" y1="15.98" x2="362.70" y2="15.98" stroke="#777" stroke-width="0.5"/>
<line x1="361.90" y1="12.73" x2="362.70" y2="12.73" stroke="#777" stroke-width="0.5"/>
<line x1="361.90" y1="9.49" x2="362.70" y2="9.49" stroke="#777" stroke-width="0.5"/>
<line x1="361.50" y1="6.25" x2="362.70" y2="6.25" stroke="#777" stroke-width="0.5"/>
<text x="360.10" y="72.70" font-size="4.5" font-weight="bold" text-anchor="end" stroke="#000" stroke-width="0.22">0</text>
<text x="360.10" y="59.73" font-size="4.5" font-weight="bold" text-anchor="end" stroke="#000" stroke-width="0.22">20</text>
<text x="360.10" y="46.76" font-size="4.5" font-weight="bold" text-anchor="end" stroke="#000" stroke-width="0.22">40</text>
<text x="360.10" y="33.79" font-size="4.5" font-weight="bold" text-anchor="end" stroke="#000" stroke-width="0.22">60</text>
<text x="360.10" y="20.82" font-size="4.5" font-weight="bold" text-anchor="end" stroke="#000" stroke-width="0.22">80</text>
<text x="360.10" y="7.85" font-size="4.5" font-weight="bold" text-anchor="end" stroke="#000" stroke-width="0.22">100</text>
<text x="363.00" y="78.70" font-size="4.5" font-weight="bold" text-anchor="middle" stroke="#000" stroke-width="0.2">10<tspan dy="-2.0" font-size="3.6">0</tspan></text>
<line x1="367.79" y1="70.70" x2="367.79" y2="71.50" stroke="#888" stroke-width="0.4"/>
<line x1="370.76" y1="70.70" x2="370.76" y2="71.50" stroke="#888" stroke-width="0.4"/>
<line x1="372.87" y1="70.70" x2="372.87" y2="71.50" stroke="#888" stroke-width="0.4"/>
<line x1="374.51" y1="70.70" x2="374.51" y2="71.50" stroke="#888" stroke-width="0.4"/>
<line x1="375.85" y1="70.70" x2="375.85" y2="71.50" stroke="#888" stroke-width="0.4"/>
<line x1="376.98" y1="70.70" x2="376.98" y2="71.50" stroke="#888" stroke-width="0.4"/>
<line x1="377.96" y1="70.70" x2="377.96" y2="71.50" stroke="#888" stroke-width="0.4"/>
<line x1="378.83" y1="70.70" x2="378.83" y2="71.50" stroke="#888" stroke-width="0.4"/>
<line x1="362.70" y1="70.70" x2="362.70" y2="72.00" stroke="#666" stroke-width="0.5"/>
<text x="379.90" y="78.70" font-size="4.5" font-weight="bold" text-anchor="middle" stroke="#000" stroke-width="0.2">10<tspan dy="-2.0" font-size="3.6">1</tspan></text>
<line x1="384.69" y1="70.70" x2="384.69" y2="71.50" stroke="#888" stroke-width="0.4"/>
<line x1="387.66" y1="70.70" x2="387.66" y2="71.50" stroke="#888" stroke-width="0.4"/>
<line x1="389.77" y1="70.70" x2="389.77" y2="71.50" stroke="#888" stroke-width="0.4"/>
<line x1="391.41" y1="70.70" x2="391.41" y2="71.50" stroke="#888" stroke-width="0.4"/>
<line x1="392.75" y1="70.70" x2="392.75" y2="71.50" stroke="#888" stroke-width="0.4"/>
<line x1="393.88" y1="70.70" x2="393.88" y2="71.50" stroke="#888" stroke-width="0.4"/>
<line x1="394.86" y1="70.70" x2="394.86" y2="71.50" stroke="#888" stroke-width="0.4"/>
<line x1="395.73" y1="70.70" x2="395.73" y2="71.50" stroke="#888" stroke-width="0.4"/>
<line x1="379.60" y1="70.70" x2="379.60" y2="72.00" stroke="#666" stroke-width="0.5"/>
<text x="396.80" y="78.70" font-size="4.5" font-weight="bold" text-anchor="middle" stroke="#000" stroke-width="0.2">10<tspan dy="-2.0" font-size="3.6">2</tspan></text>
<line x1="401.59" y1="70.70" x2="401.59" y2="71.50" stroke="#888" stroke-width="0.4"/>
<line x1="404.56" y1="70.70" x2="404.56" y2="71.50" stroke="#888" stroke-width="0.4"/>
<line x1="406.67" y1="70.70" x2="406.67" y2="71.50" stroke="#888" stroke-width="0.4"/>
<line x1="408.31" y1="70.70" x2="408.31" y2="71.50" stroke="#888" stroke-width="0.4"/>
<line x1="409.65" y1="70.70" x2="409.65" y2="71.50" stroke="#888" stroke-width="0.4"/>
<line x1="410.78" y1="70.70" x2="410.78" y2="71.50" stroke="#888" stroke-width="0.4"/>
<line x1="411.76" y1="70.70" x2="411.76" y2="71.50" stroke="#888" stroke-width="0.4"/>
<line x1="412.63" y1="70.70" x2="412.63" y2="71.50" stroke="#888" stroke-width="0.4"/>
<line x1="396.50" y1="70.70" x2="396.50" y2="72.00" stroke="#666" stroke-width="0.5"/>
<text x="413.70" y="78.70" font-size="4.5" font-weight="bold" text-anchor="middle" stroke="#000" stroke-width="0.2">10<tspan dy="-2.0" font-size="3.6">3</tspan></text>
<line x1="418.49" y1="70.70" x2="418.49" y2="71.50" stroke="#888" stroke-width="0.4"/>
<line x1="421.46" y1="70.70" x2="421.46" y2="71.50" stroke="#888" stroke-width="0.4"/>
<line x1="423.57" y1="70.70" x2="423.57" y2="71.50" stroke="#888" stroke-width="0.4"/>
<line x1="425.21" y1="70.70" x2="425.21" y2="71.50" stroke="#888" stroke-width="0.4"/>
<line x1="426.55" y1="70.70" x2="426.55" y2="71.50" stroke="#888" stroke-width="0.4"/>
<line x1="427.68" y1="70.70" x2="427.68" y2="71.50" stroke="#888" stroke-width="0.4"/>
<line x1="428.66" y1="70.70" x2="428.66" y2="71.50" stroke="#888" stroke-width="0.4"/>
<line x1="429.53" y1="70.70" x2="429.53" y2="71.50" stroke="#888" stroke-width="0.4"/>
<line x1="413.40" y1="70.70" x2="413.40" y2="72.00" stroke="#666" stroke-width="0.5"/>
<text x="430.60" y="78.70" font-size="4.5" font-weight="bold" text-anchor="middle" stroke="#000" stroke-width="0.2">10<tspan dy="-2.0" font-size="3.6">4</tspan></text>
<line x1="430.30" y1="70.70" x2="430.30" y2="72.00" stroke="#666" stroke-width="0.5"/>
<text x="395.40" y="84.50" font-size="6.3" font-weight="bold" text-anchor="middle" textLength="15.2" lengthAdjust="spacingAndGlyphs" stroke="#000" stroke-width="0.1">CD19</text>
<text x="412.70" y="12.85" font-size="7.3" font-weight="bold" stroke="#000" stroke-width="0.15">19.9</text>
<text x="412.70" y="21.70" font-size="6.9" font-weight="bold" stroke="#000" stroke-width="0.15">MFI</text>
<rect x="446.30" y="2.75" width="67.60" height="67.95" fill="none" stroke="#8a8a8a" stroke-width="0.8"/>
<polygon points="446.00,70.70 446.00,69.83 446.00,67.77 446.00,66.88 446.00,65.65 446.00,63.46 446.00,62.59 446.00,60.65 446.00,59.02 446.00,58.00 446.50,57.00 447.50,59.00 448.00,57.32 448.50,56.00 449.00,57.55 449.50,58.50 450.00,56.83 450.50,56.00 451.00,54.69 451.50,53.00 452.05,51.32 452.60,50.00 453.50,48.00 454.30,46.10 455.10,45.00 455.80,43.42 456.50,42.00 457.00,40.36 457.50,39.00 457.83,37.29 458.17,36.12 458.50,34.00 458.82,33.23 459.15,31.12 459.48,30.76 459.80,28.90 459.94,27.69 460.08,26.77 460.22,25.26 460.36,23.57 460.50,22.20 460.60,20.56 460.70,20.03 460.80,18.77 460.90,16.98 461.00,15.03 461.10,14.53 461.20,12.80 461.50,10.70 462.00,12.00 462.17,11.02 462.33,9.86 462.50,8.10 462.90,10.12 463.30,11.00 463.70,13.07 464.10,14.28 464.50,15.50 464.64,16.71 464.78,18.22 464.92,19.53 465.06,21.17 465.20,22.20 465.34,23.69 465.48,25.27 465.62,26.24 465.76,27.67 465.90,28.90 466.07,30.98 466.25,32.30 466.43,33.99 466.60,35.00 466.79,36.67 466.97,37.41 467.16,39.19 467.34,40.46 467.53,41.86 467.71,43.12 467.90,45.00 468.33,46.20 468.77,48.31 469.20,50.00 469.52,51.84 469.85,53.44 470.18,55.06 470.50,56.00 470.97,57.43 471.43,58.08 471.90,60.00 472.45,61.13 473.00,63.00 473.80,63.97 474.60,66.00 475.80,67.69 477.00,68.50 478.25,69.43 479.50,70.70" fill="#000"/>
<polyline points="472.00,61.00 472.38,59.72 472.75,58.44 473.12,57.03 473.50,55.00 473.87,54.13 474.23,52.10 474.60,50.00 475.02,49.51 475.45,46.65 475.88,46.19 476.30,45.00 476.48,44.30 476.65,42.27 476.82,41.22 477.00,39.00 477.33,36.97 477.67,36.28 478.00,35.00 478.33,33.19 478.67,32.38 479.00,31.08 479.33,28.72 479.67,27.74 480.00,26.90 480.47,24.94 480.93,24.52 481.40,22.20 481.83,21.34 482.27,18.92 482.70,18.20 483.35,17.38 484.00,15.50 484.90,13.80 485.80,13.40 486.33,12.04 486.87,9.59 487.40,8.70 488.40,7.40 488.65,7.85 488.90,10.77 489.15,10.93 489.40,12.80 489.50,13.63 489.60,16.35 489.70,17.50 489.80,17.79 489.90,20.34 490.00,20.93 490.10,22.20 490.24,23.86 490.38,24.35 490.52,27.01 490.66,27.90 490.80,28.90 490.98,31.14 491.15,32.41 491.32,32.74 491.50,34.50 491.80,36.15 492.10,38.30 492.24,39.04 492.38,40.34 492.52,41.54 492.66,43.30 492.80,45.00 493.17,46.85 493.53,47.44 493.90,50.00 494.22,51.72 494.54,52.51 494.86,53.86 495.18,56.17 495.50,57.00 495.93,58.30 496.37,59.34 496.80,61.00 498.20,62.60 499.50,64.50 500.50,66.60 501.00,67.97 501.50,69.77 502.00,70.70 503.33,70.70 504.67,70.70 506.00,70.70 507.33,70.70 508.67,70.70 510.00,70.70 511.33,70.70 512.67,70.70 514.00,70.70" fill="none" stroke="#333" stroke-width="1.0" stroke-linejoin="round"/>
<line x1="446.30" y1="2.75" x2="446.30" y2="70.70" stroke="#555" stroke-width="0.7"/>
<line x1="446.30" y1="70.70" x2="513.90" y2="70.70" stroke="#555" stroke-width="0.7"/>
<line x1="445.10" y1="71.10" x2="446.30" y2="71.10" stroke="#777" stroke-width="0.5"/>
<line x1="445.50" y1="67.86" x2="446.30" y2="67.86" stroke="#777" stroke-width="0.5"/>
<line x1="445.50" y1="64.62" x2="446.30" y2="64.62" stroke="#777" stroke-width="0.5"/>
<line x1="445.50" y1="61.37" x2="446.30" y2="61.37" stroke="#777" stroke-width="0.5"/>
<line x1="445.10" y1="58.13" x2="446.30" y2="58.13" stroke="#777" stroke-width="0.5"/>
<line x1="445.50" y1="54.89" x2="446.30" y2="54.89" stroke="#777" stroke-width="0.5"/>
<line x1="445.50" y1="51.65" x2="446.30" y2="51.65" stroke="#777" stroke-width="0.5"/>
<line x1="445.50" y1="48.40" x2="446.30" y2="48.40" stroke="#777" stroke-width="0.5"/>
<line x1="445.10" y1="45.16" x2="446.30" y2="45.16" stroke="#777" stroke-width="0.5"/>
<line x1="445.50" y1="41.92" x2="446.30" y2="41.92" stroke="#777" stroke-width="0.5"/>
<line x1="445.50" y1="38.68" x2="446.30" y2="38.68" stroke="#777" stroke-width="0.5"/>
<line x1="445.50" y1="35.43" x2="446.30" y2="35.43" stroke="#777" stroke-width="0.5"/>
<line x1="445.10" y1="32.19" x2="446.30" y2="32.19" stroke="#777" stroke-width="0.5"/>
<line x1="445.50" y1="28.95" x2="446.30" y2="28.95" stroke="#777" stroke-width="0.5"/>
<line x1="445.50" y1="25.71" x2="446.30" y2="25.71" stroke="#777" stroke-width="0.5"/>
<line x1="445.50" y1="22.46" x2="446.30" y2="22.46" stroke="#777" stroke-width="0.5"/>
<line x1="445.10" y1="19.22" x2="446.30" y2="19.22" stroke="#777" stroke-width="0.5"/>
<line x1="445.50" y1="15.98" x2="446.30" y2="15.98" stroke="#777" stroke-width="0.5"/>
<line x1="445.50" y1="12.73" x2="446.30" y2="12.73" stroke="#777" stroke-width="0.5"/>
<line x1="445.50" y1="9.49" x2="446.30" y2="9.49" stroke="#777" stroke-width="0.5"/>
<line x1="445.10" y1="6.25" x2="446.30" y2="6.25" stroke="#777" stroke-width="0.5"/>
<text x="443.70" y="72.70" font-size="4.5" font-weight="bold" text-anchor="end" stroke="#000" stroke-width="0.22">0</text>
<text x="443.70" y="59.73" font-size="4.5" font-weight="bold" text-anchor="end" stroke="#000" stroke-width="0.22">20</text>
<text x="443.70" y="46.76" font-size="4.5" font-weight="bold" text-anchor="end" stroke="#000" stroke-width="0.22">40</text>
<text x="443.70" y="33.79" font-size="4.5" font-weight="bold" text-anchor="end" stroke="#000" stroke-width="0.22">60</text>
<text x="443.70" y="20.82" font-size="4.5" font-weight="bold" text-anchor="end" stroke="#000" stroke-width="0.22">80</text>
<text x="443.70" y="7.85" font-size="4.5" font-weight="bold" text-anchor="end" stroke="#000" stroke-width="0.22">100</text>
<text x="446.60" y="78.70" font-size="4.5" font-weight="bold" text-anchor="middle" stroke="#000" stroke-width="0.2">10<tspan dy="-2.0" font-size="3.6">0</tspan></text>
<line x1="451.39" y1="70.70" x2="451.39" y2="71.50" stroke="#888" stroke-width="0.4"/>
<line x1="454.36" y1="70.70" x2="454.36" y2="71.50" stroke="#888" stroke-width="0.4"/>
<line x1="456.47" y1="70.70" x2="456.47" y2="71.50" stroke="#888" stroke-width="0.4"/>
<line x1="458.11" y1="70.70" x2="458.11" y2="71.50" stroke="#888" stroke-width="0.4"/>
<line x1="459.45" y1="70.70" x2="459.45" y2="71.50" stroke="#888" stroke-width="0.4"/>
<line x1="460.58" y1="70.70" x2="460.58" y2="71.50" stroke="#888" stroke-width="0.4"/>
<line x1="461.56" y1="70.70" x2="461.56" y2="71.50" stroke="#888" stroke-width="0.4"/>
<line x1="462.43" y1="70.70" x2="462.43" y2="71.50" stroke="#888" stroke-width="0.4"/>
<line x1="446.30" y1="70.70" x2="446.30" y2="72.00" stroke="#666" stroke-width="0.5"/>
<text x="463.50" y="78.70" font-size="4.5" font-weight="bold" text-anchor="middle" stroke="#000" stroke-width="0.2">10<tspan dy="-2.0" font-size="3.6">1</tspan></text>
<line x1="468.29" y1="70.70" x2="468.29" y2="71.50" stroke="#888" stroke-width="0.4"/>
<line x1="471.26" y1="70.70" x2="471.26" y2="71.50" stroke="#888" stroke-width="0.4"/>
<line x1="473.37" y1="70.70" x2="473.37" y2="71.50" stroke="#888" stroke-width="0.4"/>
<line x1="475.01" y1="70.70" x2="475.01" y2="71.50" stroke="#888" stroke-width="0.4"/>
<line x1="476.35" y1="70.70" x2="476.35" y2="71.50" stroke="#888" stroke-width="0.4"/>
<line x1="477.48" y1="70.70" x2="477.48" y2="71.50" stroke="#888" stroke-width="0.4"/>
<line x1="478.46" y1="70.70" x2="478.46" y2="71.50" stroke="#888" stroke-width="0.4"/>
<line x1="479.33" y1="70.70" x2="479.33" y2="71.50" stroke="#888" stroke-width="0.4"/>
<line x1="463.20" y1="70.70" x2="463.20" y2="72.00" stroke="#666" stroke-width="0.5"/>
<text x="480.40" y="78.70" font-size="4.5" font-weight="bold" text-anchor="middle" stroke="#000" stroke-width="0.2">10<tspan dy="-2.0" font-size="3.6">2</tspan></text>
<line x1="485.19" y1="70.70" x2="485.19" y2="71.50" stroke="#888" stroke-width="0.4"/>
<line x1="488.16" y1="70.70" x2="488.16" y2="71.50" stroke="#888" stroke-width="0.4"/>
<line x1="490.27" y1="70.70" x2="490.27" y2="71.50" stroke="#888" stroke-width="0.4"/>
<line x1="491.91" y1="70.70" x2="491.91" y2="71.50" stroke="#888" stroke-width="0.4"/>
<line x1="493.25" y1="70.70" x2="493.25" y2="71.50" stroke="#888" stroke-width="0.4"/>
<line x1="494.38" y1="70.70" x2="494.38" y2="71.50" stroke="#888" stroke-width="0.4"/>
<line x1="495.36" y1="70.70" x2="495.36" y2="71.50" stroke="#888" stroke-width="0.4"/>
<line x1="496.23" y1="70.70" x2="496.23" y2="71.50" stroke="#888" stroke-width="0.4"/>
<line x1="480.10" y1="70.70" x2="480.10" y2="72.00" stroke="#666" stroke-width="0.5"/>
<text x="497.30" y="78.70" font-size="4.5" font-weight="bold" text-anchor="middle" stroke="#000" stroke-width="0.2">10<tspan dy="-2.0" font-size="3.6">3</tspan></text>
<line x1="502.09" y1="70.70" x2="502.09" y2="71.50" stroke="#888" stroke-width="0.4"/>
<line x1="505.06" y1="70.70" x2="505.06" y2="71.50" stroke="#888" stroke-width="0.4"/>
<line x1="507.17" y1="70.70" x2="507.17" y2="71.50" stroke="#888" stroke-width="0.4"/>
<line x1="508.81" y1="70.70" x2="508.81" y2="71.50" stroke="#888" stroke-width="0.4"/>
<line x1="510.15" y1="70.70" x2="510.15" y2="71.50" stroke="#888" stroke-width="0.4"/>
<line x1="511.28" y1="70.70" x2="511.28" y2="71.50" stroke="#888" stroke-width="0.4"/>
<line x1="512.26" y1="70.70" x2="512.26" y2="71.50" stroke="#888" stroke-width="0.4"/>
<line x1="513.13" y1="70.70" x2="513.13" y2="71.50" stroke="#888" stroke-width="0.4"/>
<line x1="497.00" y1="70.70" x2="497.00" y2="72.00" stroke="#666" stroke-width="0.5"/>
<text x="514.20" y="78.70" font-size="4.5" font-weight="bold" text-anchor="middle" stroke="#000" stroke-width="0.2">10<tspan dy="-2.0" font-size="3.6">4</tspan></text>
<line x1="513.90" y1="70.70" x2="513.90" y2="72.00" stroke="#666" stroke-width="0.5"/>
<text x="479.40" y="84.50" font-size="6.3" font-weight="bold" text-anchor="middle" textLength="15.6" lengthAdjust="spacingAndGlyphs" stroke="#000" stroke-width="0.1">CD86</text>
<text x="497.40" y="12.85" font-size="7.3" font-weight="bold" stroke="#000" stroke-width="0.15">276</text>
<text x="497.40" y="21.70" font-size="6.9" font-weight="bold" stroke="#000" stroke-width="0.15">MFI</text>
<text x="1.2" y="12.35" font-size="11.2" font-weight="bold">A</text>
<rect x="27.00" y="95.80" width="67.60" height="67.30" fill="none" stroke="#8a8a8a" stroke-width="0.8"/>
<polygon points="27.50,163.10 27.75,162.25 28.00,160.70 28.37,159.82 28.73,157.77 29.10,156.50 29.38,155.49 29.67,153.40 29.95,152.28 30.23,150.63 30.52,149.55 30.80,148.10 30.98,146.29 31.15,145.40 31.32,143.98 31.50,142.35 31.68,141.98 31.85,140.79 32.02,138.58 32.20,137.70 32.34,136.56 32.48,135.13 32.61,133.71 32.75,132.61 32.89,131.39 33.02,129.63 33.16,128.44 33.30,127.30 33.42,126.01 33.55,125.29 33.67,123.92 33.80,122.43 33.92,120.75 34.05,119.99 34.17,118.77 34.30,116.90 34.38,116.05 34.45,113.91 34.52,112.86 34.60,111.32 34.67,110.28 34.75,109.45 34.83,107.71 34.90,106.40 35.12,104.75 35.35,103.10 35.58,101.62 35.80,100.60 36.00,102.30 36.20,103.78 36.40,105.02 36.60,105.27 36.80,106.90 37.00,108.50 37.13,109.47 37.27,111.26 37.40,112.34 37.53,114.08 37.67,115.44 37.80,116.90 37.89,118.36 37.98,119.52 38.06,120.80 38.15,121.55 38.24,123.93 38.33,124.61 38.41,126.44 38.50,127.30 38.58,128.39 38.65,129.41 38.73,131.79 38.80,132.49 38.88,133.40 38.95,135.66 39.02,136.91 39.10,137.70 39.20,138.53 39.30,140.84 39.40,141.16 39.50,142.45 39.60,143.78 39.70,145.95 39.80,146.93 39.90,148.10 40.23,149.74 40.55,151.49 40.88,152.58 41.20,154.40 41.67,155.27 42.13,156.70 42.60,158.60 43.67,159.18 44.73,160.50 45.80,161.30 47.20,162.13 48.60,162.97 50.00,163.10" fill="#000"/>
<polyline points="38.00,163.10 38.22,162.49 38.43,161.31 38.65,159.75 38.87,158.71 39.08,156.73 39.30,156.51 39.52,155.22 39.73,153.61 39.95,151.41 40.17,150.75 40.38,149.10 40.60,148.10 40.73,146.35 40.85,146.32 40.98,145.09 41.10,142.08 41.23,142.25 41.35,140.49 41.48,138.79 41.60,137.70 41.73,136.01 41.85,135.41 41.98,133.72 42.10,132.83 42.23,131.49 42.35,129.24 42.48,129.08 42.60,127.30 42.79,126.87 42.98,125.54 43.16,123.60 43.35,121.28 43.54,119.91 43.73,118.84 43.91,118.99 44.10,116.90 44.32,115.15 44.53,113.86 44.75,113.42 44.97,110.97 45.18,109.99 45.40,108.50 45.87,107.15 46.33,105.25 46.80,104.80 48.90,103.30 50.40,101.20 51.60,100.20 51.80,101.65 52.00,103.42 52.20,103.48 52.40,105.40 52.67,106.20 52.95,107.84 53.23,108.47 53.50,110.60 53.75,112.17 54.00,114.32 54.25,115.61 54.50,116.90 54.66,118.26 54.83,120.14 54.99,120.17 55.15,122.22 55.31,123.17 55.48,124.88 55.64,125.30 55.80,127.30 55.98,129.10 56.15,129.17 56.33,130.60 56.50,133.05 56.67,134.61 56.85,134.98 57.02,136.25 57.20,137.70 57.34,138.54 57.48,139.89 57.61,141.81 57.75,142.32 57.89,143.52 58.02,145.42 58.16,146.20 58.30,148.10 58.68,149.83 59.06,151.60 59.44,152.98 59.82,153.90 60.20,155.40 60.73,156.53 61.27,158.08 61.80,159.60 62.65,159.91 63.50,162.00 65.30,163.10 66.65,163.10 68.00,163.10 69.35,163.10 70.70,163.10 72.05,163.10 73.40,163.10 74.75,163.10 76.10,163.10 77.45,163.10 78.80,163.10 80.15,163.10 81.50,163.10 82.85,163.10 84.20,163.10 85.55,163.10 86.90,163.10 88.25,163.10 89.60,163.10 90.95,163.10 92.30,163.10 93.65,163.10 95.00,163.10" fill="none" stroke="#333" stroke-width="1.0" stroke-linejoin="round"/>
<line x1="27.00" y1="95.80" x2="27.00" y2="163.10" stroke="#555" stroke-width="0.7"/>
<line x1="27.00" y1="163.10" x2="94.60" y2="163.10" stroke="#555" stroke-width="0.7"/>
<line x1="25.80" y1="163.90" x2="27.00" y2="163.90" stroke="#777" stroke-width="0.5"/>
<line x1="26.20" y1="160.67" x2="27.00" y2="160.67" stroke="#777" stroke-width="0.5"/>
<line x1="26.20" y1="157.44" x2="27.00" y2="157.44" stroke="#777" stroke-width="0.5"/>
<line x1="26.20" y1="154.20" x2="27.00" y2="154.20" stroke="#777" stroke-width="0.5"/>
<line x1="25.80" y1="150.97" x2="27.00" y2="150.97" stroke="#777" stroke-width="0.5"/>
<line x1="26.20" y1="147.74" x2="27.00" y2="147.74" stroke="#777" stroke-width="0.5"/>
<line x1="26.20" y1="144.50" x2="27.00" y2="144.50" stroke="#777" stroke-width="0.5"/>
<line x1="26.20" y1="141.27" x2="27.00" y2="141.27" stroke="#777" stroke-width="0.5"/>
<line x1="25.80" y1="138.04" x2="27.00" y2="138.04" stroke="#777" stroke-width="0.5"/>
<line x1="26.20" y1="134.81" x2="27.00" y2="134.81" stroke="#777" stroke-width="0.5"/>
<line x1="26.20" y1="131.57" x2="27.00" y2="131.57" stroke="#777" stroke-width="0.5"/>
<line x1="26.20" y1="128.34" x2="27.00" y2="128.34" stroke="#777" stroke-width="0.5"/>
<line x1="25.80" y1="125.11" x2="27.00" y2="125.11" stroke="#777" stroke-width="0.5"/>
<line x1="26.20" y1="121.88" x2="27.00" y2="121.88" stroke="#777" stroke-width="0.5"/>
<line x1="26.20" y1="118.64" x2="27.00" y2="118.64" stroke="#777" stroke-width="0.5"/>
<line x1="26.20" y1="115.41" x2="27.00" y2="115.41" stroke="#777" stroke-width="0.5"/>
<line x1="25.80" y1="112.18" x2="27.00" y2="112.18" stroke="#777" stroke-width="0.5"/>
<line x1="26.20" y1="108.95" x2="27.00" y2="108.95" stroke="#777" stroke-width="0.5"/>
<line x1="26.20" y1="105.72" x2="27.00" y2="105.72" stroke="#777" stroke-width="0.5"/>
<line x1="26.20" y1="102.48" x2="27.00" y2="102.48" stroke="#777" stroke-width="0.5"/>
<line x1="25.80" y1="99.25" x2="27.00" y2="99.25" stroke="#777" stroke-width="0.5"/>
<text x="24.40" y="165.50" font-size="4.5" font-weight="bold" text-anchor="end" stroke="#000" stroke-width="0.22">0</text>
<text x="24.40" y="152.57" font-size="4.5" font-weight="bold" text-anchor="end" stroke="#000" stroke-width="0.22">20</text>
<text x="24.40" y="139.64" font-size="4.5" font-weight="bold" text-anchor="end" stroke="#000" stroke-width="0.22">40</text>
<text x="24.40" y="126.71" font-size="4.5" font-weight="bold" text-anchor="end" stroke="#000" stroke-width="0.22">60</text>
<text x="24.40" y="113.78" font-size="4.5" font-weight="bold" text-anchor="end" stroke="#000" stroke-width="0.22">80</text>
<text x="24.40" y="100.85" font-size="4.5" font-weight="bold" text-anchor="end" stroke="#000" stroke-width="0.22">100</text>
<text x="27.30" y="171.70" font-size="4.5" font-weight="bold" text-anchor="middle" stroke="#000" stroke-width="0.2">10<tspan dy="-2.0" font-size="3.6">0</tspan></text>
<line x1="32.09" y1="163.10" x2="32.09" y2="163.90" stroke="#888" stroke-width="0.4"/>
<line x1="35.06" y1="163.10" x2="35.06" y2="163.90" stroke="#888" stroke-width="0.4"/>
<line x1="37.17" y1="163.10" x2="37.17" y2="163.90" stroke="#888" stroke-width="0.4"/>
<line x1="38.81" y1="163.10" x2="38.81" y2="163.90" stroke="#888" stroke-width="0.4"/>
<line x1="40.15" y1="163.10" x2="40.15" y2="163.90" stroke="#888" stroke-width="0.4"/>
<line x1="41.28" y1="163.10" x2="41.28" y2="163.90" stroke="#888" stroke-width="0.4"/>
<line x1="42.26" y1="163.10" x2="42.26" y2="163.90" stroke="#888" stroke-width="0.4"/>
<line x1="43.13" y1="163.10" x2="43.13" y2="163.90" stroke="#888" stroke-width="0.4"/>
<line x1="27.00" y1="163.10" x2="27.00" y2="164.40" stroke="#666" stroke-width="0.5"/>
<text x="44.20" y="171.70" font-size="4.5" font-weight="bold" text-anchor="middle" stroke="#000" stroke-width="0.2">10<tspan dy="-2.0" font-size="3.6">1</tspan></text>
<line x1="48.99" y1="163.10" x2="48.99" y2="163.90" stroke="#888" stroke-width="0.4"/>
<line x1="51.96" y1="163.10" x2="51.96" y2="163.90" stroke="#888" stroke-width="0.4"/>
<line x1="54.07" y1="163.10" x2="54.07" y2="163.90" stroke="#888" stroke-width="0.4"/>
<line x1="55.71" y1="163.10" x2="55.71" y2="163.90" stroke="#888" stroke-width="0.4"/>
<line x1="57.05" y1="163.10" x2="57.05" y2="163.90" stroke="#888" stroke-width="0.4"/>
<line x1="58.18" y1="163.10" x2="58.18" y2="163.90" stroke="#888" stroke-width="0.4"/>
<line x1="59.16" y1="163.10" x2="59.16" y2="163.90" stroke="#888" stroke-width="0.4"/>
<line x1="60.03" y1="163.10" x2="60.03" y2="163.90" stroke="#888" stroke-width="0.4"/>
<line x1="43.90" y1="163.10" x2="43.90" y2="164.40" stroke="#666" stroke-width="0.5"/>
<text x="61.10" y="171.70" font-size="4.5" font-weight="bold" text-anchor="middle" stroke="#000" stroke-width="0.2">10<tspan dy="-2.0" font-size="3.6">2</tspan></text>
<line x1="65.89" y1="163.10" x2="65.89" y2="163.90" stroke="#888" stroke-width="0.4"/>
<line x1="68.86" y1="163.10" x2="68.86" y2="163.90" stroke="#888" stroke-width="0.4"/>
<line x1="70.97" y1="163.10" x2="70.97" y2="163.90" stroke="#888" stroke-width="0.4"/>
<line x1="72.61" y1="163.10" x2="72.61" y2="163.90" stroke="#888" stroke-width="0.4"/>
<line x1="73.95" y1="163.10" x2="73.95" y2="163.90" stroke="#888" stroke-width="0.4"/>
<line x1="75.08" y1="163.10" x2="75.08" y2="163.90" stroke="#888" stroke-width="0.4"/>
<line x1="76.06" y1="163.10" x2="76.06" y2="163.90" stroke="#888" stroke-width="0.4"/>
<line x1="76.93" y1="163.10" x2="76.93" y2="163.90" stroke="#888" stroke-width="0.4"/>
<line x1="60.80" y1="163.10" x2="60.80" y2="164.40" stroke="#666" stroke-width="0.5"/>
<text x="78.00" y="171.70" font-size="4.5" font-weight="bold" text-anchor="middle" stroke="#000" stroke-width="0.2">10<tspan dy="-2.0" font-size="3.6">3</tspan></text>
<line x1="82.79" y1="163.10" x2="82.79" y2="163.90" stroke="#888" stroke-width="0.4"/>
<line x1="85.76" y1="163.10" x2="85.76" y2="163.90" stroke="#888" stroke-width="0.4"/>
<line x1="87.87" y1="163.10" x2="87.87" y2="163.90" stroke="#888" stroke-width="0.4"/>
<line x1="89.51" y1="163.10" x2="89.51" y2="163.90" stroke="#888" stroke-width="0.4"/>
<line x1="90.85" y1="163.10" x2="90.85" y2="163.90" stroke="#888" stroke-width="0.4"/>
<line x1="91.98" y1="163.10" x2="91.98" y2="163.90" stroke="#888" stroke-width="0.4"/>
<line x1="92.96" y1="163.10" x2="92.96" y2="163.90" stroke="#888" stroke-width="0.4"/>
<line x1="93.83" y1="163.10" x2="93.83" y2="163.90" stroke="#888" stroke-width="0.4"/>
<line x1="77.70" y1="163.10" x2="77.70" y2="164.40" stroke="#666" stroke-width="0.5"/>
<text x="94.90" y="171.70" font-size="4.5" font-weight="bold" text-anchor="middle" stroke="#000" stroke-width="0.2">10<tspan dy="-2.0" font-size="3.6">4</tspan></text>
<line x1="94.60" y1="163.10" x2="94.60" y2="164.40" stroke="#666" stroke-width="0.5"/>
<text x="60.25" y="177.70" font-size="6.3" font-weight="bold" text-anchor="middle" textLength="16.7" lengthAdjust="spacingAndGlyphs" stroke="#000" stroke-width="0.1">CCR7</text>
<text x="74.30" y="105.90" font-size="7.3" font-weight="bold" stroke="#000" stroke-width="0.15">27.3</text>
<text x="74.30" y="114.75" font-size="6.9" font-weight="bold" stroke="#000" stroke-width="0.15">MFI</text>
<rect x="110.90" y="95.80" width="67.60" height="67.30" fill="none" stroke="#8a8a8a" stroke-width="0.8"/>
<polygon points="111.50,163.10 111.75,162.25 112.00,160.70 112.23,159.69 112.47,157.56 112.70,156.50 112.93,155.63 113.17,153.69 113.40,152.18 113.63,151.04 113.87,149.10 114.10,148.10 114.29,146.43 114.47,145.41 114.66,143.88 114.85,143.10 115.04,141.50 115.22,140.16 115.41,138.73 115.60,137.70 115.75,136.06 115.90,135.36 116.05,134.28 116.20,132.32 116.35,131.56 116.50,129.68 116.65,128.91 116.80,127.30 116.91,125.69 117.03,124.78 117.14,123.29 117.25,122.55 117.36,121.11 117.47,119.03 117.59,117.72 117.70,116.90 117.80,115.45 117.90,113.76 118.00,112.39 118.10,111.84 118.20,110.43 118.30,108.50 118.50,106.46 118.70,105.01 118.90,104.27 119.10,103.20 119.30,101.20 119.52,103.13 119.74,104.35 119.96,105.87 120.18,107.02 120.40,108.50 120.57,109.89 120.73,111.73 120.90,112.23 121.07,114.32 121.23,115.76 121.40,116.90 121.61,117.79 121.83,119.82 122.04,120.40 122.25,122.66 122.46,123.72 122.67,124.65 122.89,126.10 123.10,127.30 123.29,129.17 123.47,129.74 123.66,130.84 123.85,132.73 124.04,134.28 124.22,134.69 124.41,136.72 124.60,137.70 124.78,138.87 124.95,140.52 125.12,141.57 125.30,143.44 125.47,144.29 125.65,146.06 125.83,147.36 126.00,148.10 126.34,149.11 126.68,151.55 127.02,152.79 127.36,153.51 127.70,155.40 128.53,156.89 129.37,157.93 130.20,159.60 131.55,160.11 132.90,161.70 134.27,162.40 135.63,163.10 137.00,163.10" fill="#000"/>
<polyline points="125.00,163.10 125.22,162.49 125.45,161.10 125.67,159.98 125.90,159.33 126.12,157.20 126.35,155.96 126.58,154.80 126.80,152.77 127.03,152.05 127.25,150.95 127.47,149.94 127.70,148.10 127.83,146.07 127.95,145.15 128.07,143.46 128.20,143.46 128.32,141.95 128.45,139.48 128.57,139.87 128.70,137.70 128.97,136.99 129.25,134.88 129.53,133.26 129.80,131.50 129.97,129.48 130.13,127.83 130.30,127.35 130.47,125.11 130.63,123.94 130.80,123.10 131.07,121.09 131.35,119.15 131.62,118.39 131.90,116.90 132.30,115.22 132.70,114.37 133.10,112.21 133.50,110.60 134.00,109.45 134.50,107.80 135.00,106.40 135.70,105.14 136.40,103.30 137.05,101.87 137.70,100.60 138.45,101.55 139.20,103.30 139.45,105.50 139.70,106.79 139.95,107.81 140.20,108.50 140.37,110.27 140.53,110.97 140.70,112.21 140.87,113.72 141.03,114.73 141.20,116.90 141.34,118.68 141.47,119.32 141.61,121.42 141.75,121.90 141.89,124.22 142.03,125.33 142.16,125.10 142.30,127.30 142.47,128.08 142.65,130.64 142.82,131.15 143.00,133.36 143.18,133.62 143.35,134.33 143.53,136.63 143.70,137.70 143.91,139.50 144.12,139.89 144.34,140.86 144.55,142.60 144.76,145.04 144.97,145.96 145.19,146.11 145.40,148.10 145.78,149.22 146.15,150.53 146.53,152.03 146.90,154.40 147.60,156.33 148.30,156.62 149.00,158.60 150.23,159.61 151.47,160.31 152.70,161.30 154.03,161.37 155.35,162.55 156.68,163.10 158.00,163.10 159.31,163.10 160.62,163.10 161.94,163.10 163.25,163.10 164.56,163.10 165.88,163.10 167.19,163.10 168.50,163.10 169.81,163.10 171.12,163.10 172.44,163.10 173.75,163.10 175.06,163.10 176.38,163.10 177.69,163.10 179.00,163.10" fill="none" stroke="#333" stroke-width="1.0" stroke-linejoin="round"/>
<line x1="110.90" y1="95.80" x2="110.90" y2="163.10" stroke="#555" stroke-width="0.7"/>
<line x1="110.90" y1="163.10" x2="178.50" y2="163.10" stroke="#555" stroke-width="0.7"/>
<line x1="109.70" y1="163.90" x2="110.90" y2="163.90" stroke="#777" stroke-width="0.5"/>
<line x1="110.10" y1="160.67" x2="110.90" y2="160.67" stroke="#777" stroke-width="0.5"/>
<line x1="110.10" y1="157.44" x2="110.90" y2="157.44" stroke="#777" stroke-width="0.5"/>
<line x1="110.10" y1="154.20" x2="110.90" y2="154.20" stroke="#777" stroke-width="0.5"/>
<line x1="109.70" y1="150.97" x2="110.90" y2="150.97" stroke="#777" stroke-width="0.5"/>
<line x1="110.10" y1="147.74" x2="110.90" y2="147.74" stroke="#777" stroke-width="0.5"/>
<line x1="110.10" y1="144.50" x2="110.90" y2="144.50" stroke="#777" stroke-width="0.5"/>
<line x1="110.10" y1="141.27" x2="110.90" y2="141.27" stroke="#777" stroke-width="0.5"/>
<line x1="109.70" y1="138.04" x2="110.90" y2="138.04" stroke="#777" stroke-width="0.5"/>
<line x1="110.10" y1="134.81" x2="110.90" y2="134.81" stroke="#777" stroke-width="0.5"/>
<line x1="110.10" y1="131.57" x2="110.90" y2="131.57" stroke="#777" stroke-width="0.5"/>
<line x1="110.10" y1="128.34" x2="110.90" y2="128.34" stroke="#777" stroke-width="0.5"/>
<line x1="109.70" y1="125.11" x2="110.90" y2="125.11" stroke="#777" stroke-width="0.5"/>
<line x1="110.10" y1="121.88" x2="110.90" y2="121.88" stroke="#777" stroke-width="0.5"/>
<line x1="110.10" y1="118.64" x2="110.90" y2="118.64" stroke="#777" stroke-width="0.5"/>
<line x1="110.10" y1="115.41" x2="110.90" y2="115.41" stroke="#777" stroke-width="0.5"/>
<line x1="109.70" y1="112.18" x2="110.90" y2="112.18" stroke="#777" stroke-width="0.5"/>
<line x1="110.10" y1="108.95" x2="110.90" y2="108.95" stroke="#777" stroke-width="0.5"/>
<line x1="110.10" y1="105.72" x2="110.90" y2="105.72" stroke="#777" stroke-width="0.5"/>
<line x1="110.10" y1="102.48" x2="110.90" y2="102.48" stroke="#777" stroke-width="0.5"/>
<line x1="109.70" y1="99.25" x2="110.90" y2="99.25" stroke="#777" stroke-width="0.5"/>
<text x="108.30" y="165.50" font-size="4.5" font-weight="bold" text-anchor="end" stroke="#000" stroke-width="0.22">0</text>
<text x="108.30" y="152.57" font-size="4.5" font-weight="bold" text-anchor="end" stroke="#000" stroke-width="0.22">20</text>
<text x="108.30" y="139.64" font-size="4.5" font-weight="bold" text-anchor="end" stroke="#000" stroke-width="0.22">40</text>
<text x="108.30" y="126.71" font-size="4.5" font-weight="bold" text-anchor="end" stroke="#000" stroke-width="0.22">60</text>
<text x="108.30" y="113.78" font-size="4.5" font-weight="bold" text-anchor="end" stroke="#000" stroke-width="0.22">80</text>
<text x="108.30" y="100.85" font-size="4.5" font-weight="bold" text-anchor="end" stroke="#000" stroke-width="0.22">100</text>
<text x="111.20" y="171.70" font-size="4.5" font-weight="bold" text-anchor="middle" stroke="#000" stroke-width="0.2">10<tspan dy="-2.0" font-size="3.6">0</tspan></text>
<line x1="115.99" y1="163.10" x2="115.99" y2="163.90" stroke="#888" stroke-width="0.4"/>
<line x1="118.96" y1="163.10" x2="118.96" y2="163.90" stroke="#888" stroke-width="0.4"/>
<line x1="121.07" y1="163.10" x2="121.07" y2="163.90" stroke="#888" stroke-width="0.4"/>
<line x1="122.71" y1="163.10" x2="122.71" y2="163.90" stroke="#888" stroke-width="0.4"/>
<line x1="124.05" y1="163.10" x2="124.05" y2="163.90" stroke="#888" stroke-width="0.4"/>
<line x1="125.18" y1="163.10" x2="125.18" y2="163.90" stroke="#888" stroke-width="0.4"/>
<line x1="126.16" y1="163.10" x2="126.16" y2="163.90" stroke="#888" stroke-width="0.4"/>
<line x1="127.03" y1="163.10" x2="127.03" y2="163.90" stroke="#888" stroke-width="0.4"/>
<line x1="110.90" y1="163.10" x2="110.90" y2="164.40" stroke="#666" stroke-width="0.5"/>
<text x="128.10" y="171.70" font-size="4.5" font-weight="bold" text-anchor="middle" stroke="#000" stroke-width="0.2">10<tspan dy="-2.0" font-size="3.6">1</tspan></text>
<line x1="132.89" y1="163.10" x2="132.89" y2="163.90" stroke="#888" stroke-width="0.4"/>
<line x1="135.86" y1="163.10" x2="135.86" y2="163.90" stroke="#888" stroke-width="0.4"/>
<line x1="137.97" y1="163.10" x2="137.97" y2="163.90" stroke="#888" stroke-width="0.4"/>
<line x1="139.61" y1="163.10" x2="139.61" y2="163.90" stroke="#888" stroke-width="0.4"/>
<line x1="140.95" y1="163.10" x2="140.95" y2="163.90" stroke="#888" stroke-width="0.4"/>
<line x1="142.08" y1="163.10" x2="142.08" y2="163.90" stroke="#888" stroke-width="0.4"/>
<line x1="143.06" y1="163.10" x2="143.06" y2="163.90" stroke="#888" stroke-width="0.4"/>
<line x1="143.93" y1="163.10" x2="143.93" y2="163.90" stroke="#888" stroke-width="0.4"/>
<line x1="127.80" y1="163.10" x2="127.80" y2="164.40" stroke="#666" stroke-width="0.5"/>
<text x="145.00" y="171.70" font-size="4.5" font-weight="bold" text-anchor="middle" stroke="#000" stroke-width="0.2">10<tspan dy="-2.0" font-size="3.6">2</tspan></text>
<line x1="149.79" y1="163.10" x2="149.79" y2="163.90" stroke="#888" stroke-width="0.4"/>
<line x1="152.76" y1="163.10" x2="152.76" y2="163.90" stroke="#888" stroke-width="0.4"/>
<line x1="154.87" y1="163.10" x2="154.87" y2="163.90" stroke="#888" stroke-width="0.4"/>
<line x1="156.51" y1="163.10" x2="156.51" y2="163.90" stroke="#888" stroke-width="0.4"/>
<line x1="157.85" y1="163.10" x2="157.85" y2="163.90" stroke="#888" stroke-width="0.4"/>
<line x1="158.98" y1="163.10" x2="158.98" y2="163.90" stroke="#888" stroke-width="0.4"/>
<line x1="159.96" y1="163.10" x2="159.96" y2="163.90" stroke="#888" stroke-width="0.4"/>
<line x1="160.83" y1="163.10" x2="160.83" y2="163.90" stroke="#888" stroke-width="0.4"/>
<line x1="144.70" y1="163.10" x2="144.70" y2="164.40" stroke="#666" stroke-width="0.5"/>
<text x="161.90" y="171.70" font-size="4.5" font-weight="bold" text-anchor="middle" stroke="#000" stroke-width="0.2">10<tspan dy="-2.0" font-size="3.6">3</tspan></text>
<line x1="166.69" y1="163.10" x2="166.69" y2="163.90" stroke="#888" stroke-width="0.4"/>
<line x1="169.66" y1="163.10" x2="169.66" y2="163.90" stroke="#888" stroke-width="0.4"/>
<line x1="171.77" y1="163.10" x2="171.77" y2="163.90" stroke="#888" stroke-width="0.4"/>
<line x1="173.41" y1="163.10" x2="173.41" y2="163.90" stroke="#888" stroke-width="0.4"/>
<line x1="174.75" y1="163.10" x2="174.75" y2="163.90" stroke="#888" stroke-width="0.4"/>
<line x1="175.88" y1="163.10" x2="175.88" y2="163.90" stroke="#888" stroke-width="0.4"/>
<line x1="176.86" y1="163.10" x2="176.86" y2="163.90" stroke="#888" stroke-width="0.4"/>
<line x1="177.73" y1="163.10" x2="177.73" y2="163.90" stroke="#888" stroke-width="0.4"/>
<line x1="161.60" y1="163.10" x2="161.60" y2="164.40" stroke="#666" stroke-width="0.5"/>
<text x="178.80" y="171.70" font-size="4.5" font-weight="bold" text-anchor="middle" stroke="#000" stroke-width="0.2">10<tspan dy="-2.0" font-size="3.6">4</tspan></text>
<line x1="178.50" y1="163.10" x2="178.50" y2="164.40" stroke="#666" stroke-width="0.5"/>
<text x="143.45" y="177.70" font-size="6.3" font-weight="bold" text-anchor="middle" textLength="20.5" lengthAdjust="spacingAndGlyphs" stroke="#000" stroke-width="0.1">mbIL21</text>
<text x="158.30" y="105.90" font-size="7.3" font-weight="bold" stroke="#000" stroke-width="0.15">44.9</text>
<text x="158.30" y="114.75" font-size="6.9" font-weight="bold" stroke="#000" stroke-width="0.15">MFI</text>
<rect x="194.60" y="95.80" width="67.60" height="67.30" fill="none" stroke="#8a8a8a" stroke-width="0.8"/>
<polygon points="195.50,163.10 195.75,161.88 196.00,160.00 196.23,158.67 196.47,157.08 196.70,155.40 196.94,154.18 197.18,152.96 197.42,151.32 197.66,149.16 197.90,148.10 198.06,146.47 198.22,145.45 198.39,144.07 198.55,143.46 198.71,141.87 198.88,140.26 199.04,138.82 199.20,137.70 199.32,136.07 199.45,135.22 199.57,134.31 199.70,132.10 199.82,131.14 199.95,129.71 200.07,128.73 200.20,127.30 200.34,125.71 200.47,124.18 200.61,123.61 200.75,121.87 200.89,120.98 201.03,119.99 201.16,118.30 201.30,116.90 201.40,115.99 201.50,114.46 201.60,112.18 201.70,110.99 201.80,110.09 201.90,108.50 202.07,107.16 202.23,105.27 202.40,104.94 202.57,103.41 202.73,101.84 202.90,100.60 203.05,101.94 203.20,102.84 203.35,104.61 203.50,105.44 203.65,107.38 203.80,108.50 204.00,110.43 204.20,110.96 204.40,112.42 204.60,114.19 204.80,115.95 205.00,116.90 205.14,117.80 205.28,119.37 205.41,120.93 205.55,121.70 205.69,122.88 205.82,125.00 205.96,126.15 206.10,127.30 206.22,128.70 206.35,129.95 206.47,130.72 206.60,132.48 206.72,133.78 206.85,135.12 206.97,136.00 207.10,137.70 207.22,138.48 207.35,140.32 207.47,141.83 207.60,143.10 207.72,144.72 207.85,145.35 207.97,146.67 208.10,148.10 208.48,149.16 208.86,150.63 209.24,152.08 209.62,153.58 210.00,154.40 210.70,155.31 211.40,157.29 212.10,158.60 213.45,160.17 214.80,161.10 216.20,162.30 217.60,162.90 219.00,163.10" fill="#000"/>
<polyline points="212.00,163.10 212.97,162.50 213.95,161.15 214.93,160.18 215.90,158.60 216.15,157.59 216.40,155.33 216.65,153.78 216.90,153.12 217.15,151.63 217.40,151.28 217.65,149.76 217.90,148.10 218.11,146.98 218.32,145.60 218.54,144.49 218.75,142.26 218.96,141.49 219.18,139.69 219.39,139.73 219.60,137.70 219.79,135.61 219.97,135.67 220.16,133.03 220.35,132.84 220.54,130.91 220.72,129.73 220.91,129.22 221.10,127.30 221.28,125.13 221.45,123.91 221.62,124.15 221.80,122.12 221.97,120.06 222.15,120.38 222.32,119.00 222.50,116.90 222.72,114.80 222.93,113.96 223.15,112.04 223.37,110.96 223.58,110.12 223.80,108.50 224.05,106.34 224.30,105.75 224.55,103.04 224.80,102.30 225.90,100.20 226.25,100.91 226.60,103.37 226.95,103.92 227.30,105.40 227.46,106.60 227.61,108.26 227.77,109.39 227.93,110.56 228.09,111.27 228.24,113.86 228.40,114.80 228.57,117.02 228.73,118.42 228.90,119.24 229.07,120.07 229.23,121.47 229.40,123.10 229.68,125.02 229.95,126.56 230.22,127.13 230.50,129.40 230.67,130.31 230.83,131.92 231.00,133.57 231.17,135.49 231.33,136.32 231.50,137.70 231.69,138.15 231.88,140.88 232.06,141.47 232.25,142.93 232.44,143.70 232.62,145.37 232.81,146.60 233.00,148.10 233.32,150.05 233.64,150.30 233.96,152.57 234.28,153.36 234.60,155.40 235.30,157.15 236.00,157.37 236.70,159.60 238.25,160.25 239.80,161.70 241.10,162.22 242.40,162.75 243.70,163.10 245.00,163.10 246.38,163.10 247.77,163.10 249.15,163.10 250.54,163.10 251.92,163.10 253.31,163.10 254.69,163.10 256.08,163.10 257.46,163.10 258.85,163.10 260.23,163.10 261.62,163.10 263.00,163.10" fill="none" stroke="#333" stroke-width="1.0" stroke-linejoin="round"/>
<line x1="194.60" y1="95.80" x2="194.60" y2="163.10" stroke="#555" stroke-width="0.7"/>
<line x1="194.60" y1="163.10" x2="262.20" y2="163.10" stroke="#555" stroke-width="0.7"/>
<line x1="193.40" y1="163.90" x2="194.60" y2="163.90" stroke="#777" stroke-width="0.5"/>
<line x1="193.80" y1="160.67" x2="194.60" y2="160.67" stroke="#777" stroke-width="0.5"/>
<line x1="193.80" y1="157.44" x2="194.60" y2="157.44" stroke="#777" stroke-width="0.5"/>
<line x1="193.80" y1="154.20" x2="194.60" y2="154.20" stroke="#777" stroke-width="0.5"/>
<line x1="193.40" y1="150.97" x2="194.60" y2="150.97" stroke="#777" stroke-width="0.5"/>
<line x1="193.80" y1="147.74" x2="194.60" y2="147.74" stroke="#777" stroke-width="0.5"/>
<line x1="193.80" y1="144.50" x2="194.60" y2="144.50" stroke="#777" stroke-width="0.5"/>
<line x1="193.80" y1="141.27" x2="194.60" y2="141.27" stroke="#777" stroke-width="0.5"/>
<line x1="193.40" y1="138.04" x2="194.60" y2="138.04" stroke="#777" stroke-width="0.5"/>
<line x1="193.80" y1="134.81" x2="194.60" y2="134.81" stroke="#777" stroke-width="0.5"/>
<line x1="193.80" y1="131.57" x2="194.60" y2="131.57" stroke="#777" stroke-width="0.5"/>
<line x1="193.80" y1="128.34" x2="194.60" y2="128.34" stroke="#777" stroke-width="0.5"/>
<line x1="193.40" y1="125.11" x2="194.60" y2="125.11" stroke="#777" stroke-width="0.5"/>
<line x1="193.80" y1="121.88" x2="194.60" y2="121.88" stroke="#777" stroke-width="0.5"/>
<line x1="193.80" y1="118.64" x2="194.60" y2="118.64" stroke="#777" stroke-width="0.5"/>
<line x1="193.80" y1="115.41" x2="194.60" y2="115.41" stroke="#777" stroke-width="0.5"/>
<line x1="193.40" y1="112.18" x2="194.60" y2="112.18" stroke="#777" stroke-width="0.5"/>
<line x1="193.80" y1="108.95" x2="194.60" y2="108.95" stroke="#777" stroke-width="0.5"/>
<line x1="193.80" y1="105.72" x2="194.60" y2="105.72" stroke="#777" stroke-width="0.5"/>
<line x1="193.80" y1="102.48" x2="194.60" y2="102.48" stroke="#777" stroke-width="0.5"/>
<line x1="193.40" y1="99.25" x2="194.60" y2="99.25" stroke="#777" stroke-width="0.5"/>
<text x="192.00" y="165.50" font-size="4.5" font-weight="bold" text-anchor="end" stroke="#000" stroke-width="0.22">0</text>
<text x="192.00" y="152.57" font-size="4.5" font-weight="bold" text-anchor="end" stroke="#000" stroke-width="0.22">20</text>
<text x="192.00" y="139.64" font-size="4.5" font-weight="bold" text-anchor="end" stroke="#000" stroke-width="0.22">40</text>
<text x="192.00" y="126.71" font-size="4.5" font-weight="bold" text-anchor="end" stroke="#000" stroke-width="0.22">60</text>
<text x="192.00" y="113.78" font-size="4.5" font-weight="bold" text-anchor="end" stroke="#000" stroke-width="0.22">80</text>
<text x="192.00" y="100.85" font-size="4.5" font-weight="bold" text-anchor="end" stroke="#000" stroke-width="0.22">100</text>
<text x="194.90" y="171.70" font-size="4.5" font-weight="bold" text-anchor="middle" stroke="#000" stroke-width="0.2">10<tspan dy="-2.0" font-size="3.6">0</tspan></text>
<line x1="199.69" y1="163.10" x2="199.69" y2="163.90" stroke="#888" stroke-width="0.4"/>
<line x1="202.66" y1="163.10" x2="202.66" y2="163.90" stroke="#888" stroke-width="0.4"/>
<line x1="204.77" y1="163.10" x2="204.77" y2="163.90" stroke="#888" stroke-width="0.4"/>
<line x1="206.41" y1="163.10" x2="206.41" y2="163.90" stroke="#888" stroke-width="0.4"/>
<line x1="207.75" y1="163.10" x2="207.75" y2="163.90" stroke="#888" stroke-width="0.4"/>
<line x1="208.88" y1="163.10" x2="208.88" y2="163.90" stroke="#888" stroke-width="0.4"/>
<line x1="209.86" y1="163.10" x2="209.86" y2="163.90" stroke="#888" stroke-width="0.4"/>
<line x1="210.73" y1="163.10" x2="210.73" y2="163.90" stroke="#888" stroke-width="0.4"/>
<line x1="194.60" y1="163.10" x2="194.60" y2="164.40" stroke="#666" stroke-width="0.5"/>
<text x="211.80" y="171.70" font-size="4.5" font-weight="bold" text-anchor="middle" stroke="#000" stroke-width="0.2">10<tspan dy="-2.0" font-size="3.6">1</tspan></text>
<line x1="216.59" y1="163.10" x2="216.59" y2="163.90" stroke="#888" stroke-width="0.4"/>
<line x1="219.56" y1="163.10" x2="219.56" y2="163.90" stroke="#888" stroke-width="0.4"/>
<line x1="221.67" y1="163.10" x2="221.67" y2="163.90" stroke="#888" stroke-width="0.4"/>
<line x1="223.31" y1="163.10" x2="223.31" y2="163.90" stroke="#888" stroke-width="0.4"/>
<line x1="224.65" y1="163.10" x2="224.65" y2="163.90" stroke="#888" stroke-width="0.4"/>
<line x1="225.78" y1="163.10" x2="225.78" y2="163.90" stroke="#888" stroke-width="0.4"/>
<line x1="226.76" y1="163.10" x2="226.76" y2="163.90" stroke="#888" stroke-width="0.4"/>
<line x1="227.63" y1="163.10" x2="227.63" y2="163.90" stroke="#888" stroke-width="0.4"/>
<line x1="211.50" y1="163.10" x2="211.50" y2="164.40" stroke="#666" stroke-width="0.5"/>
<text x="228.70" y="171.70" font-size="4.5" font-weight="bold" text-anchor="middle" stroke="#000" stroke-width="0.2">10<tspan dy="-2.0" font-size="3.6">2</tspan></text>
<line x1="233.49" y1="163.10" x2="233.49" y2="163.90" stroke="#888" stroke-width="0.4"/>
<line x1="236.46" y1="163.10" x2="236.46" y2="163.90" stroke="#888" stroke-width="0.4"/>
<line x1="238.57" y1="163.10" x2="238.57" y2="163.90" stroke="#888" stroke-width="0.4"/>
<line x1="240.21" y1="163.10" x2="240.21" y2="163.90" stroke="#888" stroke-width="0.4"/>
<line x1="241.55" y1="163.10" x2="241.55" y2="163.90" stroke="#888" stroke-width="0.4"/>
<line x1="242.68" y1="163.10" x2="242.68" y2="163.90" stroke="#888" stroke-width="0.4"/>
<line x1="243.66" y1="163.10" x2="243.66" y2="163.90" stroke="#888" stroke-width="0.4"/>
<line x1="244.53" y1="163.10" x2="244.53" y2="163.90" stroke="#888" stroke-width="0.4"/>
<line x1="228.40" y1="163.10" x2="228.40" y2="164.40" stroke="#666" stroke-width="0.5"/>
<text x="245.60" y="171.70" font-size="4.5" font-weight="bold" text-anchor="middle" stroke="#000" stroke-width="0.2">10<tspan dy="-2.0" font-size="3.6">3</tspan></text>
<line x1="250.39" y1="163.10" x2="250.39" y2="163.90" stroke="#888" stroke-width="0.4"/>
<line x1="253.36" y1="163.10" x2="253.36" y2="163.90" stroke="#888" stroke-width="0.4"/>
<line x1="255.47" y1="163.10" x2="255.47" y2="163.90" stroke="#888" stroke-width="0.4"/>
<line x1="257.11" y1="163.10" x2="257.11" y2="163.90" stroke="#888" stroke-width="0.4"/>
<line x1="258.45" y1="163.10" x2="258.45" y2="163.90" stroke="#888" stroke-width="0.4"/>
<line x1="259.58" y1="163.10" x2="259.58" y2="163.90" stroke="#888" stroke-width="0.4"/>
<line x1="260.56" y1="163.10" x2="260.56" y2="163.90" stroke="#888" stroke-width="0.4"/>
<line x1="261.43" y1="163.10" x2="261.43" y2="163.90" stroke="#888" stroke-width="0.4"/>
<line x1="245.30" y1="163.10" x2="245.30" y2="164.40" stroke="#666" stroke-width="0.5"/>
<text x="262.50" y="171.70" font-size="4.5" font-weight="bold" text-anchor="middle" stroke="#000" stroke-width="0.2">10<tspan dy="-2.0" font-size="3.6">4</tspan></text>
<line x1="262.20" y1="163.10" x2="262.20" y2="164.40" stroke="#666" stroke-width="0.5"/>
<text x="228.45" y="177.70" font-size="6.3" font-weight="bold" text-anchor="middle" textLength="22.9" lengthAdjust="spacingAndGlyphs" stroke="#000" stroke-width="0.1">CD137L</text>
<text x="242.00" y="105.90" font-size="7.3" font-weight="bold" stroke="#000" stroke-width="0.15">97.7</text>
<text x="242.00" y="114.75" font-size="6.9" font-weight="bold" stroke="#000" stroke-width="0.15">MFI</text>
<rect x="278.70" y="95.80" width="67.60" height="67.30" fill="none" stroke="#8a8a8a" stroke-width="0.8"/>
<polygon points="279.50,163.10 279.62,162.50 279.75,160.64 279.88,160.34 280.00,158.60 280.75,157.27 281.50,155.40 281.84,153.36 282.18,152.54 282.52,150.71 282.86,150.02 283.20,148.10 283.32,147.22 283.45,145.26 283.57,144.32 283.70,142.89 283.82,141.34 283.95,140.22 284.07,138.87 284.20,137.70 284.27,136.36 284.35,135.64 284.43,134.08 284.50,131.95 284.57,131.02 284.65,130.46 284.73,128.91 284.80,127.30 284.91,126.13 285.02,124.88 285.14,123.62 285.25,121.70 285.36,120.69 285.48,119.23 285.59,117.83 285.70,116.90 285.80,115.73 285.90,113.54 286.00,112.31 286.10,111.55 286.20,110.37 286.30,108.50 286.40,106.95 286.50,106.29 286.60,104.95 286.70,102.82 286.80,102.41 286.90,100.60 287.15,101.52 287.40,103.20 287.65,104.05 287.90,105.38 288.15,107.38 288.40,108.50 288.57,110.31 288.73,110.83 288.90,112.49 289.07,114.23 289.23,115.61 289.40,116.90 289.54,117.77 289.68,119.73 289.81,120.33 289.95,122.62 290.09,123.60 290.23,124.90 290.36,126.51 290.50,127.30 290.57,128.28 290.65,129.54 290.73,131.35 290.80,132.97 290.88,134.32 290.95,135.45 291.02,136.52 291.10,137.70 291.20,138.83 291.30,140.65 291.40,141.76 291.50,143.35 291.60,144.51 291.70,145.49 291.80,146.98 291.90,148.10 292.23,149.32 292.55,150.99 292.88,153.14 293.20,154.40 293.90,156.05 294.60,156.63 295.30,158.60 296.55,159.50 297.80,161.10 299.20,161.90 300.60,162.90 302.00,163.10" fill="#000"/>
<polyline points="292.50,163.10 292.73,162.52 292.97,160.80 293.20,160.28 293.43,159.00 293.67,158.01 293.90,156.10 294.40,154.10 294.90,152.75 295.40,151.80 296.10,149.73 296.80,148.44 297.50,147.50 298.05,146.60 298.60,144.18 299.15,143.58 299.70,142.20 300.40,140.25 301.10,138.96 301.80,137.90 302.53,136.34 303.27,135.64 304.00,133.60 304.52,132.45 305.05,130.03 305.57,129.15 306.10,128.20 306.48,126.21 306.85,126.17 307.23,124.71 307.60,122.80 309.40,123.90 310.45,125.55 311.50,126.10 311.87,125.15 312.23,123.47 312.60,121.50 313.07,120.78 313.53,118.96 314.00,116.90 314.50,115.06 315.00,114.73 315.50,112.70 315.83,111.28 316.17,110.36 316.50,108.50 316.77,107.32 317.05,105.77 317.32,104.36 317.60,103.30 317.90,101.62 318.20,100.20 318.45,101.25 318.70,102.28 318.95,104.93 319.20,106.27 319.45,107.99 319.70,108.50 320.03,110.24 320.37,111.40 320.70,112.70 320.98,114.70 321.25,115.14 321.52,117.67 321.80,118.90 321.97,120.20 322.13,121.12 322.30,122.56 322.47,124.54 322.63,125.46 322.80,127.30 322.93,128.53 323.05,130.09 323.18,131.01 323.30,131.84 323.43,133.78 323.55,134.62 323.68,135.92 323.80,137.70 323.90,138.45 324.00,140.06 324.10,140.83 324.20,143.17 324.30,145.02 324.40,145.30 324.50,147.19 324.60,148.10 324.84,150.34 325.08,150.20 325.32,151.84 325.56,154.49 325.80,155.40 326.30,157.71 326.80,158.80 327.75,160.40 328.70,161.50 329.85,162.65 331.00,163.10 332.33,163.10 333.67,163.10 335.00,163.10 336.33,163.10 337.67,163.10 339.00,163.10 340.33,163.10 341.67,163.10 343.00,163.10 344.33,163.10 345.67,163.10 347.00,163.10" fill="none" stroke="#333" stroke-width="1.0" stroke-linejoin="round"/>
<line x1="278.70" y1="95.80" x2="278.70" y2="163.10" stroke="#555" stroke-width="0.7"/>
<line x1="278.70" y1="163.10" x2="346.30" y2="163.10" stroke="#555" stroke-width="0.7"/>
<line x1="277.50" y1="163.90" x2="278.70" y2="163.90" stroke="#777" stroke-width="0.5"/>
<line x1="277.90" y1="160.67" x2="278.70" y2="160.67" stroke="#777" stroke-width="0.5"/>
<line x1="277.90" y1="157.44" x2="278.70" y2="157.44" stroke="#777" stroke-width="0.5"/>
<line x1="277.90" y1="154.20" x2="278.70" y2="154.20" stroke="#777" stroke-width="0.5"/>
<line x1="277.50" y1="150.97" x2="278.70" y2="150.97" stroke="#777" stroke-width="0.5"/>
<line x1="277.90" y1="147.74" x2="278.70" y2="147.74" stroke="#777" stroke-width="0.5"/>
<line x1="277.90" y1="144.50" x2="278.70" y2="144.50" stroke="#777" stroke-width="0.5"/>
<line x1="277.90" y1="141.27" x2="278.70" y2="141.27" stroke="#777" stroke-width="0.5"/>
<line x1="277.50" y1="138.04" x2="278.70" y2="138.04" stroke="#777" stroke-width="0.5"/>
<line x1="277.90" y1="134.81" x2="278.70" y2="134.81" stroke="#777" stroke-width="0.5"/>
<line x1="277.90" y1="131.57" x2="278.70" y2="131.57" stroke="#777" stroke-width="0.5"/>
<line x1="277.90" y1="128.34" x2="278.70" y2="128.34" stroke="#777" stroke-width="0.5"/>
<line x1="277.50" y1="125.11" x2="278.70" y2="125.11" stroke="#777" stroke-width="0.5"/>
<line x1="277.90" y1="121.88" x2="278.70" y2="121.88" stroke="#777" stroke-width="0.5"/>
<line x1="277.90" y1="118.64" x2="278.70" y2="118.64" stroke="#777" stroke-width="0.5"/>
<line x1="277.90" y1="115.41" x2="278.70" y2="115.41" stroke="#777" stroke-width="0.5"/>
<line x1="277.50" y1="112.18" x2="278.70" y2="112.18" stroke="#777" stroke-width="0.5"/>
<line x1="277.90" y1="108.95" x2="278.70" y2="108.95" stroke="#777" stroke-width="0.5"/>
<line x1="277.90" y1="105.72" x2="278.70" y2="105.72" stroke="#777" stroke-width="0.5"/>
<line x1="277.90" y1="102.48" x2="278.70" y2="102.48" stroke="#777" stroke-width="0.5"/>
<line x1="277.50" y1="99.25" x2="278.70" y2="99.25" stroke="#777" stroke-width="0.5"/>
<text x="276.10" y="165.50" font-size="4.5" font-weight="bold" text-anchor="end" stroke="#000" stroke-width="0.22">0</text>
<text x="276.10" y="152.57" font-size="4.5" font-weight="bold" text-anchor="end" stroke="#000" stroke-width="0.22">20</text>
<text x="276.10" y="139.64" font-size="4.5" font-weight="bold" text-anchor="end" stroke="#000" stroke-width="0.22">40</text>
<text x="276.10" y="126.71" font-size="4.5" font-weight="bold" text-anchor="end" stroke="#000" stroke-width="0.22">60</text>
<text x="276.10" y="113.78" font-size="4.5" font-weight="bold" text-anchor="end" stroke="#000" stroke-width="0.22">80</text>
<text x="276.10" y="100.85" font-size="4.5" font-weight="bold" text-anchor="end" stroke="#000" stroke-width="0.22">100</text>
<text x="279.00" y="171.70" font-size="4.5" font-weight="bold" text-anchor="middle" stroke="#000" stroke-width="0.2">10<tspan dy="-2.0" font-size="3.6">0</tspan></text>
<line x1="283.79" y1="163.10" x2="283.79" y2="163.90" stroke="#888" stroke-width="0.4"/>
<line x1="286.76" y1="163.10" x2="286.76" y2="163.90" stroke="#888" stroke-width="0.4"/>
<line x1="288.87" y1="163.10" x2="288.87" y2="163.90" stroke="#888" stroke-width="0.4"/>
<line x1="290.51" y1="163.10" x2="290.51" y2="163.90" stroke="#888" stroke-width="0.4"/>
<line x1="291.85" y1="163.10" x2="291.85" y2="163.90" stroke="#888" stroke-width="0.4"/>
<line x1="292.98" y1="163.10" x2="292.98" y2="163.90" stroke="#888" stroke-width="0.4"/>
<line x1="293.96" y1="163.10" x2="293.96" y2="163.90" stroke="#888" stroke-width="0.4"/>
<line x1="294.83" y1="163.10" x2="294.83" y2="163.90" stroke="#888" stroke-width="0.4"/>
<line x1="278.70" y1="163.10" x2="278.70" y2="164.40" stroke="#666" stroke-width="0.5"/>
<text x="295.90" y="171.70" font-size="4.5" font-weight="bold" text-anchor="middle" stroke="#000" stroke-width="0.2">10<tspan dy="-2.0" font-size="3.6">1</tspan></text>
<line x1="300.69" y1="163.10" x2="300.69" y2="163.90" stroke="#888" stroke-width="0.4"/>
<line x1="303.66" y1="163.10" x2="303.66" y2="163.90" stroke="#888" stroke-width="0.4"/>
<line x1="305.77" y1="163.10" x2="305.77" y2="163.90" stroke="#888" stroke-width="0.4"/>
<line x1="307.41" y1="163.10" x2="307.41" y2="163.90" stroke="#888" stroke-width="0.4"/>
<line x1="308.75" y1="163.10" x2="308.75" y2="163.90" stroke="#888" stroke-width="0.4"/>
<line x1="309.88" y1="163.10" x2="309.88" y2="163.90" stroke="#888" stroke-width="0.4"/>
<line x1="310.86" y1="163.10" x2="310.86" y2="163.90" stroke="#888" stroke-width="0.4"/>
<line x1="311.73" y1="163.10" x2="311.73" y2="163.90" stroke="#888" stroke-width="0.4"/>
<line x1="295.60" y1="163.10" x2="295.60" y2="164.40" stroke="#666" stroke-width="0.5"/>
<text x="312.80" y="171.70" font-size="4.5" font-weight="bold" text-anchor="middle" stroke="#000" stroke-width="0.2">10<tspan dy="-2.0" font-size="3.6">2</tspan></text>
<line x1="317.59" y1="163.10" x2="317.59" y2="163.90" stroke="#888" stroke-width="0.4"/>
<line x1="320.56" y1="163.10" x2="320.56" y2="163.90" stroke="#888" stroke-width="0.4"/>
<line x1="322.67" y1="163.10" x2="322.67" y2="163.90" stroke="#888" stroke-width="0.4"/>
<line x1="324.31" y1="163.10" x2="324.31" y2="163.90" stroke="#888" stroke-width="0.4"/>
<line x1="325.65" y1="163.10" x2="325.65" y2="163.90" stroke="#888" stroke-width="0.4"/>
<line x1="326.78" y1="163.10" x2="326.78" y2="163.90" stroke="#888" stroke-width="0.4"/>
<line x1="327.76" y1="163.10" x2="327.76" y2="163.90" stroke="#888" stroke-width="0.4"/>
<line x1="328.63" y1="163.10" x2="328.63" y2="163.90" stroke="#888" stroke-width="0.4"/>
<line x1="312.50" y1="163.10" x2="312.50" y2="164.40" stroke="#666" stroke-width="0.5"/>
<text x="329.70" y="171.70" font-size="4.5" font-weight="bold" text-anchor="middle" stroke="#000" stroke-width="0.2">10<tspan dy="-2.0" font-size="3.6">3</tspan></text>
<line x1="334.49" y1="163.10" x2="334.49" y2="163.90" stroke="#888" stroke-width="0.4"/>
<line x1="337.46" y1="163.10" x2="337.46" y2="163.90" stroke="#888" stroke-width="0.4"/>
<line x1="339.57" y1="163.10" x2="339.57" y2="163.90" stroke="#888" stroke-width="0.4"/>
<line x1="341.21" y1="163.10" x2="341.21" y2="163.90" stroke="#888" stroke-width="0.4"/>
<line x1="342.55" y1="163.10" x2="342.55" y2="163.90" stroke="#888" stroke-width="0.4"/>
<line x1="343.68" y1="163.10" x2="343.68" y2="163.90" stroke="#888" stroke-width="0.4"/>
<line x1="344.66" y1="163.10" x2="344.66" y2="163.90" stroke="#888" stroke-width="0.4"/>
<line x1="345.53" y1="163.10" x2="345.53" y2="163.90" stroke="#888" stroke-width="0.4"/>
<line x1="329.40" y1="163.10" x2="329.40" y2="164.40" stroke="#666" stroke-width="0.5"/>
<text x="346.60" y="171.70" font-size="4.5" font-weight="bold" text-anchor="middle" stroke="#000" stroke-width="0.2">10<tspan dy="-2.0" font-size="3.6">4</tspan></text>
<line x1="346.30" y1="163.10" x2="346.30" y2="164.40" stroke="#666" stroke-width="0.5"/>
<text x="311.60" y="177.70" font-size="6.3" font-weight="bold" text-anchor="middle" textLength="15.2" lengthAdjust="spacingAndGlyphs" stroke="#000" stroke-width="0.1">CD64</text>
<text x="330.10" y="105.90" font-size="7.3" font-weight="bold" stroke="#000" stroke-width="0.15">165</text>
<text x="330.10" y="114.75" font-size="6.9" font-weight="bold" stroke="#000" stroke-width="0.15">MFI</text>
<rect x="362.70" y="95.80" width="67.60" height="67.30" fill="none" stroke="#8a8a8a" stroke-width="0.8"/>
<polygon points="363.00,163.10 363.00,162.46 363.00,160.80 363.00,159.29 363.00,158.63 363.00,156.78 363.00,155.89 363.00,154.40 363.85,152.93 364.70,152.30 365.17,151.48 365.63,149.71 366.10,148.10 366.24,146.55 366.38,144.98 366.51,144.60 366.65,143.38 366.79,141.41 366.93,139.83 367.06,139.57 367.20,137.70 367.32,136.87 367.45,135.05 367.57,133.33 367.70,132.80 367.82,131.76 367.95,129.66 368.07,128.44 368.20,127.30 368.27,126.44 368.35,125.00 368.43,123.90 368.50,122.25 368.57,120.48 368.65,120.04 368.73,118.57 368.80,116.90 368.95,115.94 369.10,113.90 369.25,112.46 369.40,111.87 369.55,110.41 369.70,108.50 369.80,106.70 369.90,105.36 370.00,104.11 370.10,103.43 370.20,101.62 370.30,100.60 370.55,101.52 370.80,103.26 371.05,105.11 371.30,105.84 371.55,106.68 371.80,108.50 371.90,109.47 372.00,111.06 372.10,112.50 372.20,113.75 372.30,115.00 372.40,116.90 372.52,118.01 372.65,119.16 372.77,120.45 372.90,121.60 373.02,123.48 373.15,125.01 373.27,125.82 373.40,127.30 373.54,128.13 373.68,129.81 373.81,130.69 373.95,132.06 374.09,133.51 374.23,135.58 374.36,135.87 374.50,137.70 374.62,138.98 374.75,139.72 374.88,141.43 375.00,143.48 375.12,144.61 375.25,145.46 375.38,146.52 375.50,148.10 375.77,149.39 376.05,151.30 376.32,152.75 376.60,154.40 377.27,155.52 377.93,156.64 378.60,158.60 379.67,159.77 380.73,160.87 381.80,161.10 383.20,162.55 384.60,162.90 386.00,163.10" fill="#000"/>
<polyline points="377.00,163.10 377.93,162.50 378.85,160.49 379.77,160.26 380.70,158.60 381.34,157.61 381.98,156.87 382.62,154.41 383.26,153.12 383.90,152.30 384.23,151.34 384.57,149.82 384.90,147.80 385.23,147.10 385.57,145.20 385.90,144.00 386.11,143.19 386.32,140.69 386.54,139.56 386.75,139.47 386.96,137.18 387.18,135.69 387.39,135.36 387.60,133.50 387.79,132.44 387.98,130.27 388.16,129.69 388.35,128.60 388.54,126.40 388.73,125.97 388.91,123.72 389.10,123.10 389.27,121.51 389.45,119.75 389.62,118.67 389.80,118.76 389.98,116.43 390.15,116.18 390.32,113.89 390.50,112.70 390.84,111.63 391.18,110.85 391.52,109.26 391.86,106.96 392.20,106.40 392.53,105.19 392.87,103.91 393.20,102.30 394.30,100.20 394.63,100.99 394.97,102.20 395.30,104.30 395.67,106.37 396.03,107.12 396.40,108.50 396.65,109.25 396.90,111.01 397.15,111.89 397.40,113.70 397.77,115.54 398.15,116.30 398.52,116.88 398.90,118.90 399.22,120.73 399.54,120.68 399.86,122.29 400.18,123.09 400.50,125.20 400.93,126.93 401.35,127.10 401.77,129.15 402.20,130.40 402.57,130.97 402.95,132.96 403.32,134.63 403.70,135.60 404.17,137.06 404.63,138.32 405.10,139.80 405.43,141.32 405.75,142.79 406.07,144.62 406.40,146.00 406.75,146.60 407.10,148.60 407.45,149.50 407.80,151.30 408.32,153.26 408.85,154.69 409.38,154.42 409.90,156.50 410.93,156.89 411.97,158.93 413.00,159.60 414.40,160.43 415.80,160.13 417.20,161.70 418.65,162.22 420.10,162.75 421.55,163.10 423.00,163.10 424.33,163.10 425.67,163.10 427.00,163.10 428.33,163.10 429.67,163.10 431.00,163.10" fill="none" stroke="#333" stroke-width="1.0" stroke-linejoin="round"/>
<line x1="362.70" y1="95.80" x2="362.70" y2="163.10" stroke="#555" stroke-width="0.7"/>
<line x1="362.70" y1="163.10" x2="430.30" y2="163.10" stroke="#555" stroke-width="0.7"/>
<line x1="361.50" y1="163.90" x2="362.70" y2="163.90" stroke="#777" stroke-width="0.5"/>
<line x1="361.90" y1="160.67" x2="362.70" y2="160.67" stroke="#777" stroke-width="0.5"/>
<line x1="361.90" y1="157.44" x2="362.70" y2="157.44" stroke="#777" stroke-width="0.5"/>
<line x1="361.90" y1="154.20" x2="362.70" y2="154.20" stroke="#777" stroke-width="0.5"/>
<line x1="361.50" y1="150.97" x2="362.70" y2="150.97" stroke="#777" stroke-width="0.5"/>
<line x1="361.90" y1="147.74" x2="362.70" y2="147.74" stroke="#777" stroke-width="0.5"/>
<line x1="361.90" y1="144.50" x2="362.70" y2="144.50" stroke="#777" stroke-width="0.5"/>
<line x1="361.90" y1="141.27" x2="362.70" y2="141.27" stroke="#777" stroke-width="0.5"/>
<line x1="361.50" y1="138.04" x2="362.70" y2="138.04" stroke="#777" stroke-width="0.5"/>
<line x1="361.90" y1="134.81" x2="362.70" y2="134.81" stroke="#777" stroke-width="0.5"/>
<line x1="361.90" y1="131.57" x2="362.70" y2="131.57" stroke="#777" stroke-width="0.5"/>
<line x1="361.90" y1="128.34" x2="362.70" y2="128.34" stroke="#777" stroke-width="0.5"/>
<line x1="361.50" y1="125.11" x2="362.70" y2="125.11" stroke="#777" stroke-width="0.5"/>
<line x1="361.90" y1="121.88" x2="362.70" y2="121.88" stroke="#777" stroke-width="0.5"/>
<line x1="361.90" y1="118.64" x2="362.70" y2="118.64" stroke="#777" stroke-width="0.5"/>
<line x1="361.90" y1="115.41" x2="362.70" y2="115.41" stroke="#777" stroke-width="0.5"/>
<line x1="361.50" y1="112.18" x2="362.70" y2="112.18" stroke="#777" stroke-width="0.5"/>
<line x1="361.90" y1="108.95" x2="362.70" y2="108.95" stroke="#777" stroke-width="0.5"/>
<line x1="361.90" y1="105.72" x2="362.70" y2="105.72" stroke="#777" stroke-width="0.5"/>
<line x1="361.90" y1="102.48" x2="362.70" y2="102.48" stroke="#777" stroke-width="0.5"/>
<line x1="361.50" y1="99.25" x2="362.70" y2="99.25" stroke="#777" stroke-width="0.5"/>
<text x="360.10" y="165.50" font-size="4.5" font-weight="bold" text-anchor="end" stroke="#000" stroke-width="0.22">0</text>
<text x="360.10" y="152.57" font-size="4.5" font-weight="bold" text-anchor="end" stroke="#000" stroke-width="0.22">20</text>
<text x="360.10" y="139.64" font-size="4.5" font-weight="bold" text-anchor="end" stroke="#000" stroke-width="0.22">40</text>
<text x="360.10" y="126.71" font-size="4.5" font-weight="bold" text-anchor="end" stroke="#000" stroke-width="0.22">60</text>
<text x="360.10" y="113.78" font-size="4.5" font-weight="bold" text-anchor="end" stroke="#000" stroke-width="0.22">80</text>
<text x="360.10" y="100.85" font-size="4.5" font-weight="bold" text-anchor="end" stroke="#000" stroke-width="0.22">100</text>
<text x="363.00" y="171.70" font-size="4.5" font-weight="bold" text-anchor="middle" stroke="#000" stroke-width="0.2">10<tspan dy="-2.0" font-size="3.6">0</tspan></text>
<line x1="367.79" y1="163.10" x2="367.79" y2="163.90" stroke="#888" stroke-width="0.4"/>
<line x1="370.76" y1="163.10" x2="370.76" y2="163.90" stroke="#888" stroke-width="0.4"/>
<line x1="372.87" y1="163.10" x2="372.87" y2="163.90" stroke="#888" stroke-width="0.4"/>
<line x1="374.51" y1="163.10" x2="374.51" y2="163.90" stroke="#888" stroke-width="0.4"/>
<line x1="375.85" y1="163.10" x2="375.85" y2="163.90" stroke="#888" stroke-width="0.4"/>
<line x1="376.98" y1="163.10" x2="376.98" y2="163.90" stroke="#888" stroke-width="0.4"/>
<line x1="377.96" y1="163.10" x2="377.96" y2="163.90" stroke="#888" stroke-width="0.4"/>
<line x1="378.83" y1="163.10" x2="378.83" y2="163.90" stroke="#888" stroke-width="0.4"/>
<line x1="362.70" y1="163.10" x2="362.70" y2="164.40" stroke="#666" stroke-width="0.5"/>
<text x="379.90" y="171.70" font-size="4.5" font-weight="bold" text-anchor="middle" stroke="#000" stroke-width="0.2">10<tspan dy="-2.0" font-size="3.6">1</tspan></text>
<line x1="384.69" y1="163.10" x2="384.69" y2="163.90" stroke="#888" stroke-width="0.4"/>
<line x1="387.66" y1="163.10" x2="387.66" y2="163.90" stroke="#888" stroke-width="0.4"/>
<line x1="389.77" y1="163.10" x2="389.77" y2="163.90" stroke="#888" stroke-width="0.4"/>
<line x1="391.41" y1="163.10" x2="391.41" y2="163.90" stroke="#888" stroke-width="0.4"/>
<line x1="392.75" y1="163.10" x2="392.75" y2="163.90" stroke="#888" stroke-width="0.4"/>
<line x1="393.88" y1="163.10" x2="393.88" y2="163.90" stroke="#888" stroke-width="0.4"/>
<line x1="394.86" y1="163.10" x2="394.86" y2="163.90" stroke="#888" stroke-width="0.4"/>
<line x1="395.73" y1="163.10" x2="395.73" y2="163.90" stroke="#888" stroke-width="0.4"/>
<line x1="379.60" y1="163.10" x2="379.60" y2="164.40" stroke="#666" stroke-width="0.5"/>
<text x="396.80" y="171.70" font-size="4.5" font-weight="bold" text-anchor="middle" stroke="#000" stroke-width="0.2">10<tspan dy="-2.0" font-size="3.6">2</tspan></text>
<line x1="401.59" y1="163.10" x2="401.59" y2="163.90" stroke="#888" stroke-width="0.4"/>
<line x1="404.56" y1="163.10" x2="404.56" y2="163.90" stroke="#888" stroke-width="0.4"/>
<line x1="406.67" y1="163.10" x2="406.67" y2="163.90" stroke="#888" stroke-width="0.4"/>
<line x1="408.31" y1="163.10" x2="408.31" y2="163.90" stroke="#888" stroke-width="0.4"/>
<line x1="409.65" y1="163.10" x2="409.65" y2="163.90" stroke="#888" stroke-width="0.4"/>
<line x1="410.78" y1="163.10" x2="410.78" y2="163.90" stroke="#888" stroke-width="0.4"/>
<line x1="411.76" y1="163.10" x2="411.76" y2="163.90" stroke="#888" stroke-width="0.4"/>
<line x1="412.63" y1="163.10" x2="412.63" y2="163.90" stroke="#888" stroke-width="0.4"/>
<line x1="396.50" y1="163.10" x2="396.50" y2="164.40" stroke="#666" stroke-width="0.5"/>
<text x="413.70" y="171.70" font-size="4.5" font-weight="bold" text-anchor="middle" stroke="#000" stroke-width="0.2">10<tspan dy="-2.0" font-size="3.6">3</tspan></text>
<line x1="418.49" y1="163.10" x2="418.49" y2="163.90" stroke="#888" stroke-width="0.4"/>
<line x1="421.46" y1="163.10" x2="421.46" y2="163.90" stroke="#888" stroke-width="0.4"/>
<line x1="423.57" y1="163.10" x2="423.57" y2="163.90" stroke="#888" stroke-width="0.4"/>
<line x1="425.21" y1="163.10" x2="425.21" y2="163.90" stroke="#888" stroke-width="0.4"/>
<line x1="426.55" y1="163.10" x2="426.55" y2="163.90" stroke="#888" stroke-width="0.4"/>
<line x1="427.68" y1="163.10" x2="427.68" y2="163.90" stroke="#888" stroke-width="0.4"/>
<line x1="428.66" y1="163.10" x2="428.66" y2="163.90" stroke="#888" stroke-width="0.4"/>
<line x1="429.53" y1="163.10" x2="429.53" y2="163.90" stroke="#888" stroke-width="0.4"/>
<line x1="413.40" y1="163.10" x2="413.40" y2="164.40" stroke="#666" stroke-width="0.5"/>
<text x="430.60" y="171.70" font-size="4.5" font-weight="bold" text-anchor="middle" stroke="#000" stroke-width="0.2">10<tspan dy="-2.0" font-size="3.6">4</tspan></text>
<line x1="430.30" y1="163.10" x2="430.30" y2="164.40" stroke="#666" stroke-width="0.5"/>
<text x="395.40" y="177.70" font-size="6.3" font-weight="bold" text-anchor="middle" textLength="15.2" lengthAdjust="spacingAndGlyphs" stroke="#000" stroke-width="0.1">CD19</text>
<text x="413.10" y="105.90" font-size="7.3" font-weight="bold" stroke="#000" stroke-width="0.15">170</text>
<text x="413.10" y="114.75" font-size="6.9" font-weight="bold" stroke="#000" stroke-width="0.15">MFI</text>
<rect x="446.30" y="95.80" width="67.60" height="67.30" fill="none" stroke="#8a8a8a" stroke-width="0.8"/>
<polygon points="446.00,163.10 446.00,162.43 446.00,161.54 446.00,159.33 446.00,157.86 446.00,156.49 446.00,155.89 446.00,154.65 446.00,153.44 446.00,151.70 446.00,150.28 446.00,148.97 446.00,147.35 446.00,146.06 446.00,144.21 446.00,142.72 446.00,141.90 447.00,139.80 448.10,137.70 448.27,136.76 448.43,135.30 448.60,134.11 448.77,132.45 448.93,130.89 449.10,129.40 449.28,127.60 449.47,127.04 449.65,125.23 449.83,124.24 450.02,122.74 450.20,121.00 450.45,119.79 450.70,118.06 450.95,116.71 451.20,114.80 451.48,113.14 451.75,111.91 452.02,110.11 452.30,108.50 452.80,107.08 453.30,105.40 454.05,104.42 454.80,102.30 456.00,101.20 456.16,103.13 456.32,104.38 456.48,105.70 456.64,106.72 456.80,108.50 456.92,110.31 457.03,111.19 457.15,112.54 457.27,114.53 457.38,115.47 457.50,116.90 457.57,118.44 457.65,119.12 457.73,121.10 457.80,122.64 457.88,123.54 457.95,125.12 458.02,126.09 458.10,127.30 458.20,128.86 458.30,129.83 458.40,130.97 458.50,133.02 458.60,133.98 458.70,135.61 458.80,136.20 458.90,137.70 458.99,138.71 459.07,140.35 459.16,141.71 459.25,142.37 459.34,143.70 459.43,145.62 459.51,146.23 459.60,148.10 459.85,149.24 460.10,151.79 460.35,153.37 460.60,154.40 461.17,156.28 461.73,156.95 462.30,158.60 463.55,160.42 464.80,161.10 466.20,161.85 467.60,162.90 469.00,163.10" fill="#000"/>
<polyline points="466.00,163.10 467.26,163.10 468.51,163.10 469.77,162.77 471.02,162.42 472.28,162.92 473.53,160.85 474.79,161.81 476.04,160.43 477.30,160.70 478.85,160.53 480.40,158.60 480.82,156.47 481.24,156.76 481.66,155.15 482.08,154.20 482.50,152.30 482.75,151.82 483.00,149.06 483.25,147.86 483.50,147.14 483.75,144.99 484.00,144.00 484.15,142.26 484.30,140.89 484.45,140.71 484.60,139.42 484.75,137.97 484.90,135.63 485.05,135.58 485.20,133.50 485.30,132.22 485.40,130.42 485.50,129.52 485.60,128.16 485.70,126.24 485.80,125.82 485.90,124.15 486.00,123.10 486.16,121.93 486.32,121.27 486.49,119.46 486.65,117.73 486.81,117.25 486.98,116.19 487.14,113.98 487.30,112.70 487.68,111.93 488.05,108.68 488.43,107.33 488.80,106.40 489.15,104.36 489.50,104.29 489.85,102.39 490.20,100.60 490.52,102.44 490.85,103.12 491.18,104.94 491.50,106.40 491.68,108.41 491.85,108.30 492.02,109.65 492.20,110.84 492.38,112.91 492.55,114.89 492.73,115.69 492.90,116.90 493.09,118.02 493.27,119.50 493.46,120.22 493.65,122.91 493.84,123.14 494.02,124.22 494.21,125.66 494.40,127.30 494.60,129.18 494.80,129.57 495.00,131.93 495.20,132.21 495.40,133.69 495.60,134.33 495.80,137.13 496.00,137.70 496.26,139.53 496.52,140.25 496.79,140.91 497.05,142.89 497.31,143.98 497.57,146.11 497.84,147.57 498.10,148.10 498.52,149.99 498.94,150.64 499.36,151.65 499.78,154.65 500.20,155.40 501.00,157.25 501.80,156.89 502.60,158.55 503.40,159.60 504.95,160.62 506.50,161.70 507.88,162.22 509.25,162.75 510.62,163.10 512.00,163.10 514.00,163.10" fill="none" stroke="#333" stroke-width="1.0" stroke-linejoin="round"/>
<line x1="446.30" y1="95.80" x2="446.30" y2="163.10" stroke="#555" stroke-width="0.7"/>
<line x1="446.30" y1="163.10" x2="513.90" y2="163.10" stroke="#555" stroke-width="0.7"/>
<line x1="445.10" y1="163.90" x2="446.30" y2="163.90" stroke="#777" stroke-width="0.5"/>
<line x1="445.50" y1="160.67" x2="446.30" y2="160.67" stroke="#777" stroke-width="0.5"/>
<line x1="445.50" y1="157.44" x2="446.30" y2="157.44" stroke="#777" stroke-width="0.5"/>
<line x1="445.50" y1="154.20" x2="446.30" y2="154.20" stroke="#777" stroke-width="0.5"/>
<line x1="445.10" y1="150.97" x2="446.30" y2="150.97" stroke="#777" stroke-width="0.5"/>
<line x1="445.50" y1="147.74" x2="446.30" y2="147.74" stroke="#777" stroke-width="0.5"/>
<line x1="445.50" y1="144.50" x2="446.30" y2="144.50" stroke="#777" stroke-width="0.5"/>
<line x1="445.50" y1="141.27" x2="446.30" y2="141.27" stroke="#777" stroke-width="0.5"/>
<line x1="445.10" y1="138.04" x2="446.30" y2="138.04" stroke="#777" stroke-width="0.5"/>
<line x1="445.50" y1="134.81" x2="446.30" y2="134.81" stroke="#777" stroke-width="0.5"/>
<line x1="445.50" y1="131.57" x2="446.30" y2="131.57" stroke="#777" stroke-width="0.5"/>
<line x1="445.50" y1="128.34" x2="446.30" y2="128.34" stroke="#777" stroke-width="0.5"/>
<line x1="445.10" y1="125.11" x2="446.30" y2="125.11" stroke="#777" stroke-width="0.5"/>
<line x1="445.50" y1="121.88" x2="446.30" y2="121.88" stroke="#777" stroke-width="0.5"/>
<line x1="445.50" y1="118.64" x2="446.30" y2="118.64" stroke="#777" stroke-width="0.5"/>
<line x1="445.50" y1="115.41" x2="446.30" y2="115.41" stroke="#777" stroke-width="0.5"/>
<line x1="445.10" y1="112.18" x2="446.30" y2="112.18" stroke="#777" stroke-width="0.5"/>
<line x1="445.50" y1="108.95" x2="446.30" y2="108.95" stroke="#777" stroke-width="0.5"/>
<line x1="445.50" y1="105.72" x2="446.30" y2="105.72" stroke="#777" stroke-width="0.5"/>
<line x1="445.50" y1="102.48" x2="446.30" y2="102.48" stroke="#777" stroke-width="0.5"/>
<line x1="445.10" y1="99.25" x2="446.30" y2="99.25" stroke="#777" stroke-width="0.5"/>
<text x="443.70" y="165.50" font-size="4.5" font-weight="bold" text-anchor="end" stroke="#000" stroke-width="0.22">0</text>
<text x="443.70" y="152.57" font-size="4.5" font-weight="bold" text-anchor="end" stroke="#000" stroke-width="0.22">20</text>
<text x="443.70" y="139.64" font-size="4.5" font-weight="bold" text-anchor="end" stroke="#000" stroke-width="0.22">40</text>
<text x="443.70" y="126.71" font-size="4.5" font-weight="bold" text-anchor="end" stroke="#000" stroke-width="0.22">60</text>
<text x="443.70" y="113.78" font-size="4.5" font-weight="bold" text-anchor="end" stroke="#000" stroke-width="0.22">80</text>
<text x="443.70" y="100.85" font-size="4.5" font-weight="bold" text-anchor="end" stroke="#000" stroke-width="0.22">100</text>
<text x="446.60" y="171.70" font-size="4.5" font-weight="bold" text-anchor="middle" stroke="#000" stroke-width="0.2">10<tspan dy="-2.0" font-size="3.6">0</tspan></text>
<line x1="451.39" y1="163.10" x2="451.39" y2="163.90" stroke="#888" stroke-width="0.4"/>
<line x1="454.36" y1="163.10" x2="454.36" y2="163.90" stroke="#888" stroke-width="0.4"/>
<line x1="456.47" y1="163.10" x2="456.47" y2="163.90" stroke="#888" stroke-width="0.4"/>
<line x1="458.11" y1="163.10" x2="458.11" y2="163.90" stroke="#888" stroke-width="0.4"/>
<line x1="459.45" y1="163.10" x2="459.45" y2="163.90" stroke="#888" stroke-width="0.4"/>
<line x1="460.58" y1="163.10" x2="460.58" y2="163.90" stroke="#888" stroke-width="0.4"/>
<line x1="461.56" y1="163.10" x2="461.56" y2="163.90" stroke="#888" stroke-width="0.4"/>
<line x1="462.43" y1="163.10" x2="462.43" y2="163.90" stroke="#888" stroke-width="0.4"/>
<line x1="446.30" y1="163.10" x2="446.30" y2="164.40" stroke="#666" stroke-width="0.5"/>
<text x="463.50" y="171.70" font-size="4.5" font-weight="bold" text-anchor="middle" stroke="#000" stroke-width="0.2">10<tspan dy="-2.0" font-size="3.6">1</tspan></text>
<line x1="468.29" y1="163.10" x2="468.29" y2="163.90" stroke="#888" stroke-width="0.4"/>
<line x1="471.26" y1="163.10" x2="471.26" y2="163.90" stroke="#888" stroke-width="0.4"/>
<line x1="473.37" y1="163.10" x2="473.37" y2="163.90" stroke="#888" stroke-width="0.4"/>
<line x1="475.01" y1="163.10" x2="475.01" y2="163.90" stroke="#888" stroke-width="0.4"/>
<line x1="476.35" y1="163.10" x2="476.35" y2="163.90" stroke="#888" stroke-width="0.4"/>
<line x1="477.48" y1="163.10" x2="477.48" y2="163.90" stroke="#888" stroke-width="0.4"/>
<line x1="478.46" y1="163.10" x2="478.46" y2="163.90" stroke="#888" stroke-width="0.4"/>
<line x1="479.33" y1="163.10" x2="479.33" y2="163.90" stroke="#888" stroke-width="0.4"/>
<line x1="463.20" y1="163.10" x2="463.20" y2="164.40" stroke="#666" stroke-width="0.5"/>
<text x="480.40" y="171.70" font-size="4.5" font-weight="bold" text-anchor="middle" stroke="#000" stroke-width="0.2">10<tspan dy="-2.0" font-size="3.6">2</tspan></text>
<line x1="485.19" y1="163.10" x2="485.19" y2="163.90" stroke="#888" stroke-width="0.4"/>
<line x1="488.16" y1="163.10" x2="488.16" y2="163.90" stroke="#888" stroke-width="0.4"/>
<line x1="490.27" y1="163.10" x2="490.27" y2="163.90" stroke="#888" stroke-width="0.4"/>
<line x1="491.91" y1="163.10" x2="491.91" y2="163.90" stroke="#888" stroke-width="0.4"/>
<line x1="493.25" y1="163.10" x2="493.25" y2="163.90" stroke="#888" stroke-width="0.4"/>
<line x1="494.38" y1="163.10" x2="494.38" y2="163.90" stroke="#888" stroke-width="0.4"/>
<line x1="495.36" y1="163.10" x2="495.36" y2="163.90" stroke="#888" stroke-width="0.4"/>
<line x1="496.23" y1="163.10" x2="496.23" y2="163.90" stroke="#888" stroke-width="0.4"/>
<line x1="480.10" y1="163.10" x2="480.10" y2="164.40" stroke="#666" stroke-width="0.5"/>
<text x="497.30" y="171.70" font-size="4.5" font-weight="bold" text-anchor="middle" stroke="#000" stroke-width="0.2">10<tspan dy="-2.0" font-size="3.6">3</tspan></text>
<line x1="502.09" y1="163.10" x2="502.09" y2="163.90" stroke="#888" stroke-width="0.4"/>
<line x1="505.06" y1="163.10" x2="505.06" y2="163.90" stroke="#888" stroke-width="0.4"/>
<line x1="507.17" y1="163.10" x2="507.17" y2="163.90" stroke="#888" stroke-width="0.4"/>
<line x1="508.81" y1="163.10" x2="508.81" y2="163.90" stroke="#888" stroke-width="0.4"/>
<line x1="510.15" y1="163.10" x2="510.15" y2="163.90" stroke="#888" stroke-width="0.4"/>
<line x1="511.28" y1="163.10" x2="511.28" y2="163.90" stroke="#888" stroke-width="0.4"/>
<line x1="512.26" y1="163.10" x2="512.26" y2="163.90" stroke="#888" stroke-width="0.4"/>
<line x1="513.13" y1="163.10" x2="513.13" y2="163.90" stroke="#888" stroke-width="0.4"/>
<line x1="497.00" y1="163.10" x2="497.00" y2="164.40" stroke="#666" stroke-width="0.5"/>
<text x="514.20" y="171.70" font-size="4.5" font-weight="bold" text-anchor="middle" stroke="#000" stroke-width="0.2">10<tspan dy="-2.0" font-size="3.6">4</tspan></text>
<line x1="513.90" y1="163.10" x2="513.90" y2="164.40" stroke="#666" stroke-width="0.5"/>
<text x="479.40" y="177.70" font-size="6.3" font-weight="bold" text-anchor="middle" textLength="15.6" lengthAdjust="spacingAndGlyphs" stroke="#000" stroke-width="0.1">CD86</text>
<text x="496.00" y="105.90" font-size="7.3" font-weight="bold" stroke="#000" stroke-width="0.15">545</text>
<text x="496.00" y="114.75" font-size="6.9" font-weight="bold" stroke="#000" stroke-width="0.15">MFI</text>
<text x="1.2" y="105.40" font-size="11.2" font-weight="bold">B</text>
<text x="1.6" y="207.7" font-size="11.2" font-weight="bold">C</text>
<line x1="35.7" y1="213.0" x2="35.7" y2="302.3" stroke="#333" stroke-width="0.8"/>
<line x1="35.7" y1="302.3" x2="125.5" y2="302.3" stroke="#333" stroke-width="0.8"/>
<line x1="34.300000000000004" y1="290.80" x2="35.7" y2="290.80" stroke="#333" stroke-width="0.6"/>
<text x="34.00" y="292.30" font-size="5.4" font-weight="bold" text-anchor="end" stroke="#000" stroke-width="0.2">10</text>
<line x1="47.50" y1="302.3" x2="47.50" y2="303.8" stroke="#333" stroke-width="0.6"/>
<text x="47.50" y="309.2" font-size="5.4" font-weight="bold" text-anchor="middle" stroke="#000" stroke-width="0.2">10</text>
<line x1="34.300000000000004" y1="252.20" x2="35.7" y2="252.20" stroke="#333" stroke-width="0.6"/>
<text x="34.00" y="253.70" font-size="5.4" font-weight="bold" text-anchor="end" stroke="#000" stroke-width="0.2">100</text>
<line x1="86.10" y1="302.3" x2="86.10" y2="303.8" stroke="#333" stroke-width="0.6"/>
<text x="86.10" y="309.2" font-size="5.4" font-weight="bold" text-anchor="middle" stroke="#000" stroke-width="0.2">100</text>
<line x1="34.300000000000004" y1="213.60" x2="35.7" y2="213.60" stroke="#333" stroke-width="0.6"/>
<text x="34.00" y="215.10" font-size="5.4" font-weight="bold" text-anchor="end" stroke="#000" stroke-width="0.2">1000</text>
<line x1="124.70" y1="302.3" x2="124.70" y2="303.8" stroke="#333" stroke-width="0.6"/>
<text x="124.70" y="309.2" font-size="5.4" font-weight="bold" text-anchor="middle" stroke="#000" stroke-width="0.2">1000</text>
<line x1="35.88" y1="302.3" x2="35.88" y2="303.1" stroke="#555" stroke-width="0.4"/>
<line x1="34.900000000000006" y1="299.36" x2="35.7" y2="299.36" stroke="#555" stroke-width="0.4"/>
<line x1="38.94" y1="302.3" x2="38.94" y2="303.1" stroke="#555" stroke-width="0.4"/>
<line x1="34.900000000000006" y1="296.78" x2="35.7" y2="296.78" stroke="#555" stroke-width="0.4"/>
<line x1="41.52" y1="302.3" x2="41.52" y2="303.1" stroke="#555" stroke-width="0.4"/>
<line x1="34.900000000000006" y1="294.54" x2="35.7" y2="294.54" stroke="#555" stroke-width="0.4"/>
<line x1="43.76" y1="302.3" x2="43.76" y2="303.1" stroke="#555" stroke-width="0.4"/>
<line x1="34.900000000000006" y1="292.57" x2="35.7" y2="292.57" stroke="#555" stroke-width="0.4"/>
<line x1="45.73" y1="302.3" x2="45.73" y2="303.1" stroke="#555" stroke-width="0.4"/>
<line x1="34.900000000000006" y1="279.18" x2="35.7" y2="279.18" stroke="#555" stroke-width="0.4"/>
<line x1="59.12" y1="302.3" x2="59.12" y2="303.1" stroke="#555" stroke-width="0.4"/>
<line x1="34.900000000000006" y1="272.38" x2="35.7" y2="272.38" stroke="#555" stroke-width="0.4"/>
<line x1="65.92" y1="302.3" x2="65.92" y2="303.1" stroke="#555" stroke-width="0.4"/>
<line x1="34.900000000000006" y1="267.56" x2="35.7" y2="267.56" stroke="#555" stroke-width="0.4"/>
<line x1="70.74" y1="302.3" x2="70.74" y2="303.1" stroke="#555" stroke-width="0.4"/>
<line x1="34.900000000000006" y1="263.82" x2="35.7" y2="263.82" stroke="#555" stroke-width="0.4"/>
<line x1="74.48" y1="302.3" x2="74.48" y2="303.1" stroke="#555" stroke-width="0.4"/>
<line x1="34.900000000000006" y1="260.76" x2="35.7" y2="260.76" stroke="#555" stroke-width="0.4"/>
<line x1="77.54" y1="302.3" x2="77.54" y2="303.1" stroke="#555" stroke-width="0.4"/>
<line x1="34.900000000000006" y1="258.18" x2="35.7" y2="258.18" stroke="#555" stroke-width="0.4"/>
<line x1="80.12" y1="302.3" x2="80.12" y2="303.1" stroke="#555" stroke-width="0.4"/>
<line x1="34.900000000000006" y1="255.94" x2="35.7" y2="255.94" stroke="#555" stroke-width="0.4"/>
<line x1="82.36" y1="302.3" x2="82.36" y2="303.1" stroke="#555" stroke-width="0.4"/>
<line x1="34.900000000000006" y1="253.97" x2="35.7" y2="253.97" stroke="#555" stroke-width="0.4"/>
<line x1="84.33" y1="302.3" x2="84.33" y2="303.1" stroke="#555" stroke-width="0.4"/>
<line x1="34.900000000000006" y1="240.58" x2="35.7" y2="240.58" stroke="#555" stroke-width="0.4"/>
<line x1="97.72" y1="302.3" x2="97.72" y2="303.1" stroke="#555" stroke-width="0.4"/>
<line x1="34.900000000000006" y1="233.78" x2="35.7" y2="233.78" stroke="#555" stroke-width="0.4"/>
<line x1="104.52" y1="302.3" x2="104.52" y2="303.1" stroke="#555" stroke-width="0.4"/>
<line x1="34.900000000000006" y1="228.96" x2="35.7" y2="228.96" stroke="#555" stroke-width="0.4"/>
<line x1="109.34" y1="302.3" x2="109.34" y2="303.1" stroke="#555" stroke-width="0.4"/>
<line x1="34.900000000000006" y1="225.22" x2="35.7" y2="225.22" stroke="#555" stroke-width="0.4"/>
<line x1="113.08" y1="302.3" x2="113.08" y2="303.1" stroke="#555" stroke-width="0.4"/>
<line x1="34.900000000000006" y1="222.16" x2="35.7" y2="222.16" stroke="#555" stroke-width="0.4"/>
<line x1="116.14" y1="302.3" x2="116.14" y2="303.1" stroke="#555" stroke-width="0.4"/>
<line x1="34.900000000000006" y1="219.58" x2="35.7" y2="219.58" stroke="#555" stroke-width="0.4"/>
<line x1="118.72" y1="302.3" x2="118.72" y2="303.1" stroke="#555" stroke-width="0.4"/>
<line x1="34.900000000000006" y1="217.34" x2="35.7" y2="217.34" stroke="#555" stroke-width="0.4"/>
<line x1="120.96" y1="302.3" x2="120.96" y2="303.1" stroke="#555" stroke-width="0.4"/>
<line x1="34.900000000000006" y1="215.37" x2="35.7" y2="215.37" stroke="#555" stroke-width="0.4"/>
<line x1="122.93" y1="302.3" x2="122.93" y2="303.1" stroke="#555" stroke-width="0.4"/>
<text transform="translate(21.1,256.1) rotate(-90)" font-size="6.7" font-weight="bold" text-anchor="middle">MFI on NK Cells</text>
<text x="80.8" y="322.2" font-size="6.9" font-weight="bold" text-anchor="middle">MFI on Clone9.CCR7</text>
<text x="44.0" y="220.6" font-size="4.9" stroke="#000" stroke-width="0.25">Slope = 0.4497</text>
<text x="44.0" y="226.1" font-size="4.9" stroke="#000" stroke-width="0.25">R2 = 0.8762</text>
<text x="44.0" y="231.6" font-size="4.9" stroke="#000" stroke-width="0.25">P &lt; 0.0034</text>
<line x1="64.1" y1="287.3" x2="114.3" y2="238.0" stroke="#111" stroke-width="0.8"/>
<circle cx="64.34" cy="293.86" r="1.55" fill="#000"/>
<circle cx="72.68" cy="279.86" r="1.55" fill="#000"/>
<circle cx="85.71" cy="262.69" r="1.55" fill="#000"/>
<circle cx="94.49" cy="275.04" r="1.55" fill="#000"/>
<circle cx="95.00" cy="279.26" r="1.55" fill="#000"/>
<circle cx="114.52" cy="235.18" r="1.55" fill="#000"/>
<text x="156" y="207.9" font-size="11.2" font-weight="bold">D</text>
<rect x="184.3" y="207.6" width="90.5" height="90.4" fill="none" stroke="#8a8a8a" stroke-width="0.8"/>
<polygon points="230.5,298.0 232.5,296.5 235.5,292 238.3,286 241.2,275 242.7,262 243.6,250 245,240 246.2,232 247,226 248,219 248.8,214.5 249.8,216 250.5,219.5 251,229 251.8,242 252.6,250 254.1,275 255.4,292 256.4,296.8 257,298.0" fill="#000"/>
<polyline points="229.5,298.0 232.5,293 235,278 236.5,265 238,252 238.8,243 239.8,233 240.6,225 241.2,218 242,215 243.5,214 244.5,218 245.5,222 246.5,226 247.5,230" fill="none" stroke="#777" stroke-width="0.6"/>
<polyline points="228.5,298.0 231.5,294 234,275 235.5,262 237,250 238.4,242 239.5,231 240,223.6 240.5,216.3 241.5,214 242.6,213.2 243.2,215 243.6,220.5 244.7,225.7 246.2,228.9 247,232" fill="none" stroke="#222" stroke-width="0.7"/>
<line x1="184.3" y1="207.6" x2="184.3" y2="298.0" stroke="#444" stroke-width="0.7"/>
<line x1="184.3" y1="298.0" x2="274.8" y2="298.0" stroke="#444" stroke-width="0.7"/>
<line x1="182.90" y1="298.00" x2="184.3" y2="298.00" stroke="#666" stroke-width="0.5"/>
<line x1="183.40" y1="293.71" x2="184.3" y2="293.71" stroke="#666" stroke-width="0.5"/>
<line x1="183.40" y1="289.42" x2="184.3" y2="289.42" stroke="#666" stroke-width="0.5"/>
<line x1="183.40" y1="285.13" x2="184.3" y2="285.13" stroke="#666" stroke-width="0.5"/>
<line x1="182.90" y1="280.84" x2="184.3" y2="280.84" stroke="#666" stroke-width="0.5"/>
<line x1="183.40" y1="276.55" x2="184.3" y2="276.55" stroke="#666" stroke-width="0.5"/>
<line x1="183.40" y1="272.26" x2="184.3" y2="272.26" stroke="#666" stroke-width="0.5"/>
<line x1="183.40" y1="267.97" x2="184.3" y2="267.97" stroke="#666" stroke-width="0.5"/>
<line x1="182.90" y1="263.68" x2="184.3" y2="263.68" stroke="#666" stroke-width="0.5"/>
<line x1="183.40" y1="259.39" x2="184.3" y2="259.39" stroke="#666" stroke-width="0.5"/>
<line x1="183.40" y1="255.10" x2="184.3" y2="255.10" stroke="#666" stroke-width="0.5"/>
<line x1="183.40" y1="250.81" x2="184.3" y2="250.81" stroke="#666" stroke-width="0.5"/>
<line x1="182.90" y1="246.52" x2="184.3" y2="246.52" stroke="#666" stroke-width="0.5"/>
<line x1="183.40" y1="242.23" x2="184.3" y2="242.23" stroke="#666" stroke-width="0.5"/>
<line x1="183.40" y1="237.94" x2="184.3" y2="237.94" stroke="#666" stroke-width="0.5"/>
<line x1="183.40" y1="233.65" x2="184.3" y2="233.65" stroke="#666" stroke-width="0.5"/>
<line x1="182.90" y1="229.36" x2="184.3" y2="229.36" stroke="#666" stroke-width="0.5"/>
<line x1="183.40" y1="225.07" x2="184.3" y2="225.07" stroke="#666" stroke-width="0.5"/>
<line x1="183.40" y1="220.78" x2="184.3" y2="220.78" stroke="#666" stroke-width="0.5"/>
<line x1="183.40" y1="216.49" x2="184.3" y2="216.49" stroke="#666" stroke-width="0.5"/>
<line x1="182.90" y1="212.20" x2="184.3" y2="212.20" stroke="#666" stroke-width="0.5"/>
<text x="181.40" y="300.30" font-size="5.9" font-weight="bold" text-anchor="end" stroke="#000" stroke-width="0.25">0</text>
<text x="181.40" y="283.10" font-size="5.9" font-weight="bold" text-anchor="end" stroke="#000" stroke-width="0.25">20</text>
<text x="181.40" y="265.90" font-size="5.9" font-weight="bold" text-anchor="end" stroke="#000" stroke-width="0.25">40</text>
<text x="181.40" y="248.70" font-size="5.9" font-weight="bold" text-anchor="end" stroke="#000" stroke-width="0.25">60</text>
<text x="181.40" y="231.50" font-size="5.9" font-weight="bold" text-anchor="end" stroke="#000" stroke-width="0.25">80</text>
<text x="181.40" y="214.30" font-size="5.9" font-weight="bold" text-anchor="end" stroke="#000" stroke-width="0.25">100</text>
<text x="184.10" y="308.10" font-size="5.1" font-weight="bold" text-anchor="middle" letter-spacing="-0.15" stroke="#000" stroke-width="0.4">10<tspan dy="-2.6" font-size="4.0">0</tspan></text>
<line x1="184.30" y1="298.0" x2="184.30" y2="299.5" stroke="#444" stroke-width="0.5"/>
<line x1="191.11" y1="298.0" x2="191.11" y2="298.9" stroke="#666" stroke-width="0.4"/>
<line x1="195.09" y1="298.0" x2="195.09" y2="298.9" stroke="#666" stroke-width="0.4"/>
<line x1="197.92" y1="298.0" x2="197.92" y2="298.9" stroke="#666" stroke-width="0.4"/>
<line x1="200.11" y1="298.0" x2="200.11" y2="298.9" stroke="#666" stroke-width="0.4"/>
<line x1="201.91" y1="298.0" x2="201.91" y2="298.9" stroke="#666" stroke-width="0.4"/>
<line x1="203.42" y1="298.0" x2="203.42" y2="298.9" stroke="#666" stroke-width="0.4"/>
<line x1="204.73" y1="298.0" x2="204.73" y2="298.9" stroke="#666" stroke-width="0.4"/>
<line x1="205.89" y1="298.0" x2="205.89" y2="298.9" stroke="#666" stroke-width="0.4"/>
<text x="206.73" y="308.10" font-size="5.1" font-weight="bold" text-anchor="middle" letter-spacing="-0.15" stroke="#000" stroke-width="0.4">10<tspan dy="-2.6" font-size="4.0">1</tspan></text>
<line x1="206.93" y1="298.0" x2="206.93" y2="299.5" stroke="#444" stroke-width="0.5"/>
<line x1="213.74" y1="298.0" x2="213.74" y2="298.9" stroke="#666" stroke-width="0.4"/>
<line x1="217.72" y1="298.0" x2="217.72" y2="298.9" stroke="#666" stroke-width="0.4"/>
<line x1="220.55" y1="298.0" x2="220.55" y2="298.9" stroke="#666" stroke-width="0.4"/>
<line x1="222.74" y1="298.0" x2="222.74" y2="298.9" stroke="#666" stroke-width="0.4"/>
<line x1="224.53" y1="298.0" x2="224.53" y2="298.9" stroke="#666" stroke-width="0.4"/>
<line x1="226.05" y1="298.0" x2="226.05" y2="298.9" stroke="#666" stroke-width="0.4"/>
<line x1="227.36" y1="298.0" x2="227.36" y2="298.9" stroke="#666" stroke-width="0.4"/>
<line x1="228.51" y1="298.0" x2="228.51" y2="298.9" stroke="#666" stroke-width="0.4"/>
<text x="229.35" y="308.10" font-size="5.1" font-weight="bold" text-anchor="middle" letter-spacing="-0.15" stroke="#000" stroke-width="0.4">10<tspan dy="-2.6" font-size="4.0">2</tspan></text>
<line x1="229.55" y1="298.0" x2="229.55" y2="299.5" stroke="#444" stroke-width="0.5"/>
<line x1="236.36" y1="298.0" x2="236.36" y2="298.9" stroke="#666" stroke-width="0.4"/>
<line x1="240.34" y1="298.0" x2="240.34" y2="298.9" stroke="#666" stroke-width="0.4"/>
<line x1="243.17" y1="298.0" x2="243.17" y2="298.9" stroke="#666" stroke-width="0.4"/>
<line x1="245.36" y1="298.0" x2="245.36" y2="298.9" stroke="#666" stroke-width="0.4"/>
<line x1="247.16" y1="298.0" x2="247.16" y2="298.9" stroke="#666" stroke-width="0.4"/>
<line x1="248.67" y1="298.0" x2="248.67" y2="298.9" stroke="#666" stroke-width="0.4"/>
<line x1="249.98" y1="298.0" x2="249.98" y2="298.9" stroke="#666" stroke-width="0.4"/>
<line x1="251.14" y1="298.0" x2="251.14" y2="298.9" stroke="#666" stroke-width="0.4"/>
<text x="251.98" y="308.10" font-size="5.1" font-weight="bold" text-anchor="middle" letter-spacing="-0.15" stroke="#000" stroke-width="0.4">10<tspan dy="-2.6" font-size="4.0">3</tspan></text>
<line x1="252.18" y1="298.0" x2="252.18" y2="299.5" stroke="#444" stroke-width="0.5"/>
<line x1="258.99" y1="298.0" x2="258.99" y2="298.9" stroke="#666" stroke-width="0.4"/>
<line x1="262.97" y1="298.0" x2="262.97" y2="298.9" stroke="#666" stroke-width="0.4"/>
<line x1="265.80" y1="298.0" x2="265.80" y2="298.9" stroke="#666" stroke-width="0.4"/>
<line x1="267.99" y1="298.0" x2="267.99" y2="298.9" stroke="#666" stroke-width="0.4"/>
<line x1="269.78" y1="298.0" x2="269.78" y2="298.9" stroke="#666" stroke-width="0.4"/>
<line x1="271.30" y1="298.0" x2="271.30" y2="298.9" stroke="#666" stroke-width="0.4"/>
<line x1="272.61" y1="298.0" x2="272.61" y2="298.9" stroke="#666" stroke-width="0.4"/>
<line x1="273.76" y1="298.0" x2="273.76" y2="298.9" stroke="#666" stroke-width="0.4"/>
<text x="274.60" y="308.10" font-size="5.1" font-weight="bold" text-anchor="middle" letter-spacing="-0.15" stroke="#000" stroke-width="0.4">10<tspan dy="-2.6" font-size="4.0">4</tspan></text>
<line x1="274.80" y1="298.0" x2="274.80" y2="299.5" stroke="#444" stroke-width="0.5"/>
<text x="228.3" y="317.2" font-size="8.2" font-weight="bold" text-anchor="middle">CD16/CD56</text>
<text x="302.3" y="208.3" font-size="11.2" font-weight="bold">E</text>
<line x1="341.00" y1="208.60" x2="341.00" y2="297.60" stroke="#8c8c8c" stroke-width="0.9"/>
<line x1="341.00" y1="297.60" x2="430.99" y2="297.60" stroke="#8c8c8c" stroke-width="0.9"/>
<line x1="339.70" y1="297.60" x2="341.00" y2="297.60" stroke="#666" stroke-width="0.5"/>
<text x="339.20" y="299.60" font-size="4.6" font-weight="bold" text-anchor="end" stroke="#000" stroke-width="0.18">0</text>
<line x1="339.70" y1="288.75" x2="341.00" y2="288.75" stroke="#666" stroke-width="0.5"/>
<text x="339.20" y="290.75" font-size="4.6" font-weight="bold" text-anchor="end" stroke="#000" stroke-width="0.18">10</text>
<line x1="339.70" y1="279.90" x2="341.00" y2="279.90" stroke="#666" stroke-width="0.5"/>
<text x="339.20" y="281.90" font-size="4.6" font-weight="bold" text-anchor="end" stroke="#000" stroke-width="0.18">20</text>
<line x1="339.70" y1="271.05" x2="341.00" y2="271.05" stroke="#666" stroke-width="0.5"/>
<text x="339.20" y="273.05" font-size="4.6" font-weight="bold" text-anchor="end" stroke="#000" stroke-width="0.18">30</text>
<line x1="339.70" y1="262.20" x2="341.00" y2="262.20" stroke="#666" stroke-width="0.5"/>
<text x="339.20" y="264.20" font-size="4.6" font-weight="bold" text-anchor="end" stroke="#000" stroke-width="0.18">40</text>
<line x1="339.70" y1="253.35" x2="341.00" y2="253.35" stroke="#666" stroke-width="0.5"/>
<text x="339.20" y="255.35" font-size="4.6" font-weight="bold" text-anchor="end" stroke="#000" stroke-width="0.18">50</text>
<line x1="339.70" y1="244.50" x2="341.00" y2="244.50" stroke="#666" stroke-width="0.5"/>
<text x="339.20" y="246.50" font-size="4.6" font-weight="bold" text-anchor="end" stroke="#000" stroke-width="0.18">60</text>
<line x1="339.70" y1="235.65" x2="341.00" y2="235.65" stroke="#666" stroke-width="0.5"/>
<text x="339.20" y="237.65" font-size="4.6" font-weight="bold" text-anchor="end" stroke="#000" stroke-width="0.18">70</text>
<line x1="339.70" y1="226.80" x2="341.00" y2="226.80" stroke="#666" stroke-width="0.5"/>
<text x="339.20" y="228.80" font-size="4.6" font-weight="bold" text-anchor="end" stroke="#000" stroke-width="0.18">80</text>
<line x1="339.70" y1="217.95" x2="341.00" y2="217.95" stroke="#666" stroke-width="0.5"/>
<text x="339.20" y="219.95" font-size="4.6" font-weight="bold" text-anchor="end" stroke="#000" stroke-width="0.18">90</text>
<line x1="339.70" y1="209.10" x2="341.00" y2="209.10" stroke="#666" stroke-width="0.5"/>
<text x="339.20" y="211.10" font-size="4.6" font-weight="bold" text-anchor="end" stroke="#000" stroke-width="0.18">100</text>
<line x1="341.00" y1="297.60" x2="341.00" y2="298.90" stroke="#222" stroke-width="0.5"/>
<text x="341.00" y="303.90" font-size="4.6" font-weight="bold" text-anchor="middle" stroke="#000" stroke-width="0.18">0</text>
<line x1="350.89" y1="297.60" x2="350.89" y2="298.90" stroke="#222" stroke-width="0.5"/>
<text x="350.89" y="303.90" font-size="4.6" font-weight="bold" text-anchor="middle" stroke="#000" stroke-width="0.18">8</text>
<line x1="360.78" y1="297.60" x2="360.78" y2="298.90" stroke="#222" stroke-width="0.5"/>
<text x="360.78" y="303.90" font-size="4.6" font-weight="bold" text-anchor="middle" stroke="#000" stroke-width="0.18">16</text>
<line x1="370.66" y1="297.60" x2="370.66" y2="298.90" stroke="#222" stroke-width="0.5"/>
<text x="370.66" y="303.90" font-size="4.6" font-weight="bold" text-anchor="middle" stroke="#000" stroke-width="0.18">24</text>
<line x1="380.55" y1="297.60" x2="380.55" y2="298.90" stroke="#222" stroke-width="0.5"/>
<text x="380.55" y="303.90" font-size="4.6" font-weight="bold" text-anchor="middle" stroke="#000" stroke-width="0.18">32</text>
<line x1="390.44" y1="297.60" x2="390.44" y2="298.90" stroke="#222" stroke-width="0.5"/>
<text x="390.44" y="303.90" font-size="4.6" font-weight="bold" text-anchor="middle" stroke="#000" stroke-width="0.18">40</text>
<line x1="400.33" y1="297.60" x2="400.33" y2="298.90" stroke="#222" stroke-width="0.5"/>
<text x="400.33" y="303.90" font-size="4.6" font-weight="bold" text-anchor="middle" stroke="#000" stroke-width="0.18">48</text>
<line x1="410.22" y1="297.60" x2="410.22" y2="298.90" stroke="#222" stroke-width="0.5"/>
<text x="410.22" y="303.90" font-size="4.6" font-weight="bold" text-anchor="middle" stroke="#000" stroke-width="0.18">56</text>
<line x1="420.10" y1="297.60" x2="420.10" y2="298.90" stroke="#222" stroke-width="0.5"/>
<text x="420.10" y="303.90" font-size="4.6" font-weight="bold" text-anchor="middle" stroke="#000" stroke-width="0.18">64</text>
<line x1="429.99" y1="297.60" x2="429.99" y2="298.90" stroke="#222" stroke-width="0.5"/>
<text x="429.99" y="303.90" font-size="4.6" font-weight="bold" text-anchor="middle" stroke="#000" stroke-width="0.18">72</text>
<g transform="translate(328.4,287.8) rotate(-90)"><text x="0" y="0" font-size="5.5" font-weight="bold" textLength="52" lengthAdjust="spacingAndGlyphs">Relative % of Receptor</text><text x="53.2" y="-3.2" font-size="4.6" font-weight="bold">+</text><text x="57.9" y="0" font-size="5.5" font-weight="bold" textLength="22.2" lengthAdjust="spacingAndGlyphs">NK Cells</text></g>
<text x="385.3" y="315.2" font-size="6.5" font-weight="bold" text-anchor="middle" textLength="39.6" lengthAdjust="spacingAndGlyphs">Time in Hours</text>
<line x1="343.47" y1="217.07" x2="343.47" y2="231.23" stroke="#999" stroke-width="0.5"/>
<line x1="342.47" y1="217.07" x2="344.47" y2="217.07" stroke="#999" stroke-width="0.5"/>
<line x1="342.47" y1="231.23" x2="344.47" y2="231.23" stroke="#999" stroke-width="0.5"/>
<line x1="345.94" y1="225.03" x2="345.94" y2="239.19" stroke="#999" stroke-width="0.5"/>
<line x1="344.94" y1="225.03" x2="346.94" y2="225.03" stroke="#999" stroke-width="0.5"/>
<line x1="344.94" y1="239.19" x2="346.94" y2="239.19" stroke="#999" stroke-width="0.5"/>
<line x1="350.89" y1="224.50" x2="350.89" y2="242.20" stroke="#999" stroke-width="0.5"/>
<line x1="349.89" y1="224.50" x2="351.89" y2="224.50" stroke="#999" stroke-width="0.5"/>
<line x1="349.89" y1="242.20" x2="351.89" y2="242.20" stroke="#999" stroke-width="0.5"/>
<line x1="370.66" y1="250.16" x2="370.66" y2="266.09" stroke="#999" stroke-width="0.5"/>
<line x1="369.66" y1="250.16" x2="371.66" y2="250.16" stroke="#999" stroke-width="0.5"/>
<line x1="369.66" y1="266.09" x2="371.66" y2="266.09" stroke="#999" stroke-width="0.5"/>
<line x1="400.33" y1="257.42" x2="400.33" y2="278.66" stroke="#999" stroke-width="0.5"/>
<line x1="399.33" y1="257.42" x2="401.33" y2="257.42" stroke="#999" stroke-width="0.5"/>
<line x1="399.33" y1="278.66" x2="401.33" y2="278.66" stroke="#999" stroke-width="0.5"/>
<line x1="429.99" y1="282.11" x2="429.99" y2="289.19" stroke="#999" stroke-width="0.5"/>
<line x1="428.99" y1="282.11" x2="430.99" y2="282.11" stroke="#999" stroke-width="0.5"/>
<line x1="428.99" y1="289.19" x2="430.99" y2="289.19" stroke="#999" stroke-width="0.5"/>
<line x1="343.47" y1="217.95" x2="343.47" y2="235.65" stroke="#999" stroke-width="0.5"/>
<line x1="342.47" y1="217.95" x2="344.47" y2="217.95" stroke="#999" stroke-width="0.5"/>
<line x1="342.47" y1="235.65" x2="344.47" y2="235.65" stroke="#999" stroke-width="0.5"/>
<line x1="345.94" y1="227.69" x2="345.94" y2="248.93" stroke="#999" stroke-width="0.5"/>
<line x1="344.94" y1="227.69" x2="346.94" y2="227.69" stroke="#999" stroke-width="0.5"/>
<line x1="344.94" y1="248.93" x2="346.94" y2="248.93" stroke="#999" stroke-width="0.5"/>
<line x1="350.89" y1="248.04" x2="350.89" y2="272.82" stroke="#999" stroke-width="0.5"/>
<line x1="349.89" y1="248.04" x2="351.89" y2="248.04" stroke="#999" stroke-width="0.5"/>
<line x1="349.89" y1="272.82" x2="351.89" y2="272.82" stroke="#999" stroke-width="0.5"/>
<line x1="370.66" y1="268.57" x2="370.66" y2="282.73" stroke="#999" stroke-width="0.5"/>
<line x1="369.66" y1="268.57" x2="371.66" y2="268.57" stroke="#999" stroke-width="0.5"/>
<line x1="369.66" y1="282.73" x2="371.66" y2="282.73" stroke="#999" stroke-width="0.5"/>
<line x1="400.33" y1="269.19" x2="400.33" y2="285.12" stroke="#999" stroke-width="0.5"/>
<line x1="399.33" y1="269.19" x2="401.33" y2="269.19" stroke="#999" stroke-width="0.5"/>
<line x1="399.33" y1="285.12" x2="401.33" y2="285.12" stroke="#999" stroke-width="0.5"/>
<line x1="429.99" y1="287.07" x2="429.99" y2="292.38" stroke="#999" stroke-width="0.5"/>
<line x1="428.99" y1="287.07" x2="430.99" y2="287.07" stroke="#999" stroke-width="0.5"/>
<line x1="428.99" y1="292.38" x2="430.99" y2="292.38" stroke="#999" stroke-width="0.5"/>
<line x1="343.47" y1="227.69" x2="343.47" y2="248.93" stroke="#999" stroke-width="0.5"/>
<line x1="342.47" y1="227.69" x2="344.47" y2="227.69" stroke="#999" stroke-width="0.5"/>
<line x1="342.47" y1="248.93" x2="344.47" y2="248.93" stroke="#999" stroke-width="0.5"/>
<line x1="345.94" y1="244.50" x2="345.94" y2="262.20" stroke="#999" stroke-width="0.5"/>
<line x1="344.94" y1="244.50" x2="346.94" y2="244.50" stroke="#999" stroke-width="0.5"/>
<line x1="344.94" y1="262.20" x2="346.94" y2="262.20" stroke="#999" stroke-width="0.5"/>
<line x1="350.89" y1="265.30" x2="350.89" y2="277.69" stroke="#999" stroke-width="0.5"/>
<line x1="349.89" y1="265.30" x2="351.89" y2="265.30" stroke="#999" stroke-width="0.5"/>
<line x1="349.89" y1="277.69" x2="351.89" y2="277.69" stroke="#999" stroke-width="0.5"/>
<line x1="370.66" y1="280.17" x2="370.66" y2="285.48" stroke="#999" stroke-width="0.5"/>
<line x1="369.66" y1="280.17" x2="371.66" y2="280.17" stroke="#999" stroke-width="0.5"/>
<line x1="369.66" y1="285.48" x2="371.66" y2="285.48" stroke="#999" stroke-width="0.5"/>
<line x1="400.33" y1="286.45" x2="400.33" y2="291.76" stroke="#999" stroke-width="0.5"/>
<line x1="399.33" y1="286.45" x2="401.33" y2="286.45" stroke="#999" stroke-width="0.5"/>
<line x1="399.33" y1="291.76" x2="401.33" y2="291.76" stroke="#999" stroke-width="0.5"/>
<line x1="429.99" y1="291.94" x2="429.99" y2="295.48" stroke="#999" stroke-width="0.5"/>
<line x1="428.99" y1="291.94" x2="430.99" y2="291.94" stroke="#999" stroke-width="0.5"/>
<line x1="428.99" y1="295.48" x2="430.99" y2="295.48" stroke="#999" stroke-width="0.5"/>
<polyline points="341.00,209.10 343.47,224.15 345.94,232.11 350.89,233.35 370.66,258.13 400.33,268.04 429.99,285.65" fill="none" stroke="#222" stroke-width="0.8"/>
<polyline points="341.00,209.10 343.47,226.80 345.94,238.31 350.89,260.43 370.66,275.65 400.33,277.16 429.99,289.72" fill="none" stroke="#555" stroke-width="0.8"/>
<polyline points="341.00,209.10 343.47,238.31 345.94,253.35 350.89,271.49 370.66,282.82 400.33,289.10 429.99,293.71" fill="none" stroke="#222" stroke-width="0.8"/>
<circle cx="341.00" cy="209.10" r="1.3" fill="#000"/>
<circle cx="343.47" cy="224.15" r="1.3" fill="#000"/>
<circle cx="345.94" cy="232.11" r="1.3" fill="#000"/>
<circle cx="350.89" cy="233.35" r="1.3" fill="#000"/>
<circle cx="370.66" cy="258.13" r="1.3" fill="#000"/>
<circle cx="400.33" cy="268.04" r="1.3" fill="#000"/>
<circle cx="429.99" cy="285.65" r="1.3" fill="#000"/>
<circle cx="341.00" cy="209.10" r="1.1" fill="#fff" stroke="#666" stroke-width="0.5"/>
<circle cx="343.47" cy="226.80" r="1.1" fill="#fff" stroke="#666" stroke-width="0.5"/>
<circle cx="345.94" cy="238.31" r="1.1" fill="#fff" stroke="#666" stroke-width="0.5"/>
<circle cx="350.89" cy="260.43" r="1.1" fill="#fff" stroke="#666" stroke-width="0.5"/>
<circle cx="370.66" cy="275.65" r="1.1" fill="#fff" stroke="#666" stroke-width="0.5"/>
<circle cx="400.33" cy="277.16" r="1.1" fill="#fff" stroke="#666" stroke-width="0.5"/>
<circle cx="429.99" cy="289.72" r="1.1" fill="#fff" stroke="#666" stroke-width="0.5"/>
<circle cx="341.00" cy="209.10" r="1.3" fill="#000"/>
<circle cx="343.47" cy="238.31" r="1.3" fill="#000"/>
<circle cx="345.94" cy="253.35" r="1.3" fill="#000"/>
<circle cx="350.89" cy="271.49" r="1.3" fill="#000"/>
<circle cx="370.66" cy="282.82" r="1.3" fill="#000"/>
<circle cx="400.33" cy="289.10" r="1.3" fill="#000"/>
<circle cx="429.99" cy="293.71" r="1.3" fill="#000"/>
<circle cx="387.2" cy="212.50" r="1.1" fill="#000"/>
<text x="390.8" y="214.20" font-size="4.8" stroke="#000" stroke-width="0.12">CD64<tspan dy="-1.6" font-size="4">+</tspan><tspan dy="1.6">NK Cells</tspan></text>
<circle cx="387.2" cy="217.85" r="0.95" fill="#fff" stroke="#555" stroke-width="0.6"/>
<text x="390.8" y="219.55" font-size="4.8" stroke="#000" stroke-width="0.12">CD137L<tspan dy="-1.6" font-size="4">+</tspan><tspan dy="1.6">NK Cells</tspan></text>
<circle cx="387.2" cy="223.20" r="1.1" fill="#000"/>
<text x="390.8" y="224.90" font-size="4.8" stroke="#000" stroke-width="0.12">CD86<tspan dy="-1.6" font-size="4">+</tspan><tspan dy="1.6">NK Cells</tspan></text>
</svg>
</body></html>
